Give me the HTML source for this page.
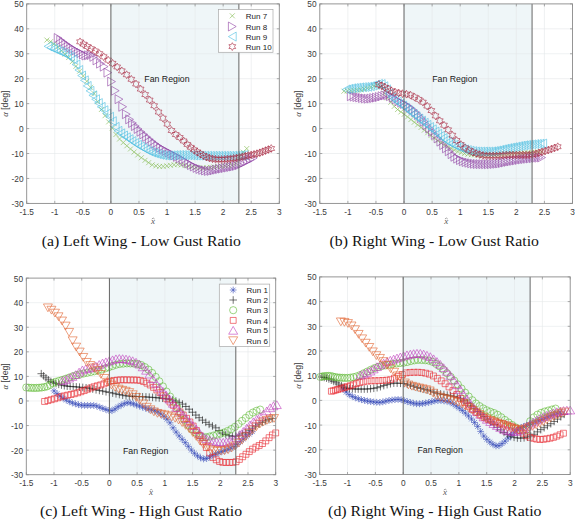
<!DOCTYPE html>
<html><head><meta charset="utf-8"><style>
html,body{margin:0;padding:0;background:#fff;}
svg{display:block;}
</style></head><body>
<svg width="575" height="520" viewBox="0 0 575 520">
<rect width="575" height="520" fill="#fff"/>
<defs><g id="m-x"><path d="M-2.5,-2.5L2.5,2.5M-2.5,2.5L2.5,-2.5"/></g>
<g id="m-gt"><path d="M-3.90,-4.5L3.90,0L-3.90,4.5Z"/></g>
<g id="m-lt"><path d="M3.90,-4.5L-3.90,0L3.90,4.5Z"/></g>
<g id="m-up"><path d="M-4.5,3.90L0,-3.90L4.5,3.90Z"/></g>
<g id="m-dn"><path d="M-4.5,-3.90L0,3.90L4.5,-3.90Z"/></g>
<g id="m-h"><path d="M0.00,-3.90L-1.12,-1.95L-3.38,-1.95L-2.25,-0.00L-3.38,1.95L-1.12,1.95L-0.00,3.90L1.12,1.95L3.38,1.95L2.25,0.00L3.38,-1.95L1.13,-1.95Z"/></g>
<g id="m-ast"><path d="M-3.4,0L3.4,0M0,-3.4L0,3.4M-2.40,-2.40L2.40,2.40M-2.40,2.40L2.40,-2.40"/></g>
<g id="m-plus"><path d="M-3.8,0L3.8,0M0,-3.8L0,3.8"/></g>
<g id="m-o"><circle r="3.6"/></g>
<g id="m-s"><path d="M-2.95,-2.95H2.95V2.95H-2.95Z"/></g></defs>
<rect x="26.7" y="3.9" width="252.60000000000002" height="199.5" fill="#fff"/>
<rect x="110.90" y="3.9" width="127.98" height="199.5" fill="#eff6f8"/>
<path d="M54.77,3.9V203.4M82.83,3.9V203.4M110.90,3.9V203.4M138.97,3.9V203.4M167.03,3.9V203.4M195.10,3.9V203.4M223.17,3.9V203.4M251.23,3.9V203.4M26.7,178.46H279.3M26.7,153.53H279.3M26.7,128.59H279.3M26.7,103.65H279.3M26.7,78.71H279.3M26.7,53.77H279.3M26.7,28.84H279.3" stroke="#e4e7e9" stroke-width="0.6" fill="none"/>
<text x="144.3" y="82.1" font-family='"Liberation Sans", sans-serif' font-size="8.3" fill="#1a1a1a" textLength="45.3" lengthAdjust="spacingAndGlyphs">Fan Region</text>
<g stroke="#7fb84a" fill="none" stroke-width="0.6">
<use href="#m-x" x="46.91" y="40.06"/>
<use href="#m-x" x="50.54" y="41.66"/>
<use href="#m-x" x="54.17" y="43.89"/>
<use href="#m-x" x="57.81" y="46.94"/>
<use href="#m-x" x="61.44" y="50.77"/>
<use href="#m-x" x="65.07" y="54.25"/>
<use href="#m-x" x="68.71" y="57.53"/>
<use href="#m-x" x="72.34" y="61.61"/>
<use href="#m-x" x="75.97" y="66.31"/>
<use href="#m-x" x="79.61" y="71.17"/>
<use href="#m-x" x="83.24" y="76.01"/>
<use href="#m-x" x="86.87" y="81.26"/>
<use href="#m-x" x="90.51" y="87.32"/>
<use href="#m-x" x="94.14" y="93.65"/>
<use href="#m-x" x="97.78" y="101.63"/>
<use href="#m-x" x="101.41" y="109.48"/>
<use href="#m-x" x="105.04" y="115.70"/>
<use href="#m-x" x="108.68" y="121.86"/>
<use href="#m-x" x="112.31" y="128.09"/>
<use href="#m-x" x="115.94" y="134.47"/>
<use href="#m-x" x="119.58" y="139.01"/>
<use href="#m-x" x="123.21" y="142.62"/>
<use href="#m-x" x="126.84" y="145.81"/>
<use href="#m-x" x="130.48" y="148.96"/>
<use href="#m-x" x="134.11" y="152.03"/>
<use href="#m-x" x="137.74" y="154.95"/>
<use href="#m-x" x="141.38" y="157.72"/>
<use href="#m-x" x="145.01" y="160.34"/>
<use href="#m-x" x="148.64" y="162.68"/>
<use href="#m-x" x="152.28" y="164.83"/>
<use href="#m-x" x="155.91" y="165.87"/>
<use href="#m-x" x="159.54" y="166.41"/>
<use href="#m-x" x="163.18" y="166.40"/>
<use href="#m-x" x="166.81" y="165.88"/>
<use href="#m-x" x="170.44" y="165.33"/>
<use href="#m-x" x="174.08" y="164.74"/>
<use href="#m-x" x="177.71" y="164.51"/>
<use href="#m-x" x="181.34" y="164.96"/>
<use href="#m-x" x="184.98" y="165.58"/>
<use href="#m-x" x="188.61" y="166.15"/>
<use href="#m-x" x="192.24" y="166.73"/>
<use href="#m-x" x="195.88" y="167.41"/>
<use href="#m-x" x="199.51" y="167.94"/>
<use href="#m-x" x="203.14" y="167.93"/>
<use href="#m-x" x="206.78" y="167.70"/>
<use href="#m-x" x="210.41" y="167.37"/>
<use href="#m-x" x="214.04" y="167.05"/>
<use href="#m-x" x="217.68" y="166.64"/>
<use href="#m-x" x="221.31" y="166.21"/>
<use href="#m-x" x="224.94" y="165.82"/>
<use href="#m-x" x="228.58" y="165.55"/>
<use href="#m-x" x="232.21" y="165.16"/>
<use href="#m-x" x="235.84" y="163.48"/>
<use href="#m-x" x="239.48" y="156.79"/>
<use href="#m-x" x="243.11" y="152.21"/>
<use href="#m-x" x="246.74" y="148.54"/>
</g>
<g stroke="#8e3fa2" fill="none" stroke-width="0.6">
<use href="#m-gt" x="58.13" y="38.06"/>
<use href="#m-gt" x="60.66" y="40.09"/>
<use href="#m-gt" x="63.19" y="42.03"/>
<use href="#m-gt" x="65.71" y="43.89"/>
<use href="#m-gt" x="68.24" y="45.66"/>
<use href="#m-gt" x="70.76" y="47.36"/>
<use href="#m-gt" x="73.29" y="48.98"/>
<use href="#m-gt" x="75.82" y="50.49"/>
<use href="#m-gt" x="78.34" y="51.87"/>
<use href="#m-gt" x="80.87" y="53.09"/>
<use href="#m-gt" x="83.39" y="54.48"/>
<use href="#m-gt" x="85.92" y="55.52"/>
<use href="#m-gt" x="88.45" y="55.27"/>
<use href="#m-gt" x="90.97" y="55.03"/>
<use href="#m-gt" x="93.79" y="56.81"/>
<use href="#m-gt" x="96.94" y="60.38"/>
<use href="#m-gt" x="100.46" y="63.62"/>
<use href="#m-gt" x="104.17" y="66.62"/>
<use href="#m-gt" x="107.87" y="72.64"/>
<use href="#m-gt" x="111.57" y="81.59"/>
<use href="#m-gt" x="115.28" y="90.71"/>
<use href="#m-gt" x="118.98" y="99.17"/>
<use href="#m-gt" x="122.69" y="106.76"/>
<use href="#m-gt" x="126.33" y="114.20"/>
<use href="#m-gt" x="129.59" y="119.34"/>
<use href="#m-gt" x="132.50" y="122.97"/>
<use href="#m-gt" x="135.31" y="126.03"/>
<use href="#m-gt" x="138.11" y="128.95"/>
<use href="#m-gt" x="140.92" y="131.72"/>
<use href="#m-gt" x="143.73" y="134.35"/>
<use href="#m-gt" x="146.53" y="136.85"/>
<use href="#m-gt" x="149.34" y="139.24"/>
<use href="#m-gt" x="152.15" y="141.56"/>
<use href="#m-gt" x="154.95" y="143.77"/>
<use href="#m-gt" x="157.76" y="145.83"/>
<use href="#m-gt" x="160.57" y="147.71"/>
<use href="#m-gt" x="163.37" y="149.38"/>
<use href="#m-gt" x="166.18" y="150.90"/>
<use href="#m-gt" x="168.99" y="152.35"/>
<use href="#m-gt" x="171.79" y="153.81"/>
<use href="#m-gt" x="174.60" y="155.33"/>
<use href="#m-gt" x="177.41" y="156.83"/>
<use href="#m-gt" x="180.21" y="158.34"/>
<use href="#m-gt" x="183.02" y="159.91"/>
<use href="#m-gt" x="185.83" y="161.63"/>
<use href="#m-gt" x="188.63" y="163.40"/>
<use href="#m-gt" x="191.44" y="165.04"/>
<use href="#m-gt" x="194.25" y="166.49"/>
<use href="#m-gt" x="197.05" y="167.86"/>
<use href="#m-gt" x="199.86" y="168.97"/>
<use href="#m-gt" x="202.67" y="169.80"/>
<use href="#m-gt" x="205.47" y="170.53"/>
<use href="#m-gt" x="208.28" y="170.95"/>
<use href="#m-gt" x="211.09" y="170.85"/>
<use href="#m-gt" x="213.89" y="170.33"/>
<use href="#m-gt" x="216.70" y="169.66"/>
<use href="#m-gt" x="219.51" y="169.08"/>
<use href="#m-gt" x="222.31" y="168.58"/>
<use href="#m-gt" x="225.12" y="168.07"/>
<use href="#m-gt" x="227.93" y="167.55"/>
<use href="#m-gt" x="230.73" y="167.02"/>
<use href="#m-gt" x="233.54" y="166.50"/>
<use href="#m-gt" x="236.35" y="165.87"/>
<use href="#m-gt" x="239.15" y="165.03"/>
<use href="#m-gt" x="241.96" y="163.80"/>
<use href="#m-gt" x="244.77" y="162.35"/>
<use href="#m-gt" x="247.57" y="160.90"/>
<use href="#m-gt" x="250.38" y="159.54"/>
<use href="#m-gt" x="253.19" y="158.16"/>
</g>
<g stroke="#49bde0" fill="none" stroke-width="0.6">
<use href="#m-lt" x="48.03" y="46.29"/>
<use href="#m-lt" x="50.83" y="47.54"/>
<use href="#m-lt" x="53.63" y="48.78"/>
<use href="#m-lt" x="56.43" y="50.01"/>
<use href="#m-lt" x="59.23" y="51.19"/>
<use href="#m-lt" x="62.02" y="52.42"/>
<use href="#m-lt" x="64.82" y="53.79"/>
<use href="#m-lt" x="67.62" y="55.17"/>
<use href="#m-lt" x="70.42" y="56.85"/>
<use href="#m-lt" x="73.22" y="59.50"/>
<use href="#m-lt" x="76.02" y="64.52"/>
<use href="#m-lt" x="78.82" y="70.00"/>
<use href="#m-lt" x="81.61" y="75.56"/>
<use href="#m-lt" x="84.41" y="80.36"/>
<use href="#m-lt" x="87.21" y="85.94"/>
<use href="#m-lt" x="90.01" y="90.86"/>
<use href="#m-lt" x="92.81" y="95.32"/>
<use href="#m-lt" x="95.61" y="99.25"/>
<use href="#m-lt" x="98.41" y="103.07"/>
<use href="#m-lt" x="101.20" y="106.87"/>
<use href="#m-lt" x="104.00" y="110.26"/>
<use href="#m-lt" x="106.80" y="113.55"/>
<use href="#m-lt" x="109.60" y="116.84"/>
<use href="#m-lt" x="112.40" y="121.21"/>
<use href="#m-lt" x="115.20" y="126.90"/>
<use href="#m-lt" x="118.00" y="130.83"/>
<use href="#m-lt" x="120.80" y="133.40"/>
<use href="#m-lt" x="123.59" y="135.47"/>
<use href="#m-lt" x="126.39" y="137.30"/>
<use href="#m-lt" x="129.19" y="139.15"/>
<use href="#m-lt" x="131.99" y="141.10"/>
<use href="#m-lt" x="134.79" y="142.99"/>
<use href="#m-lt" x="137.59" y="144.81"/>
<use href="#m-lt" x="140.39" y="146.50"/>
<use href="#m-lt" x="143.18" y="148.08"/>
<use href="#m-lt" x="145.98" y="149.65"/>
<use href="#m-lt" x="148.78" y="151.12"/>
<use href="#m-lt" x="151.58" y="152.36"/>
<use href="#m-lt" x="154.38" y="153.26"/>
<use href="#m-lt" x="157.18" y="154.06"/>
<use href="#m-lt" x="159.98" y="154.77"/>
<use href="#m-lt" x="162.78" y="155.29"/>
<use href="#m-lt" x="165.57" y="155.52"/>
<use href="#m-lt" x="168.37" y="155.47"/>
<use href="#m-lt" x="171.17" y="155.33"/>
<use href="#m-lt" x="173.97" y="155.16"/>
<use href="#m-lt" x="176.77" y="155.04"/>
<use href="#m-lt" x="179.57" y="155.03"/>
<use href="#m-lt" x="182.37" y="155.08"/>
<use href="#m-lt" x="185.16" y="155.17"/>
<use href="#m-lt" x="187.96" y="155.28"/>
<use href="#m-lt" x="190.76" y="155.39"/>
<use href="#m-lt" x="193.56" y="155.48"/>
<use href="#m-lt" x="196.36" y="155.55"/>
<use href="#m-lt" x="199.16" y="155.60"/>
<use href="#m-lt" x="201.96" y="155.66"/>
<use href="#m-lt" x="204.75" y="155.71"/>
<use href="#m-lt" x="207.55" y="155.74"/>
<use href="#m-lt" x="210.35" y="155.77"/>
<use href="#m-lt" x="213.15" y="155.77"/>
<use href="#m-lt" x="215.95" y="155.77"/>
<use href="#m-lt" x="218.75" y="155.77"/>
<use href="#m-lt" x="221.55" y="155.77"/>
<use href="#m-lt" x="224.35" y="155.77"/>
<use href="#m-lt" x="227.14" y="155.77"/>
<use href="#m-lt" x="229.94" y="155.76"/>
<use href="#m-lt" x="232.74" y="155.70"/>
<use href="#m-lt" x="235.54" y="155.58"/>
<use href="#m-lt" x="238.34" y="155.41"/>
<use href="#m-lt" x="241.14" y="155.22"/>
<use href="#m-lt" x="243.94" y="155.02"/>
</g>
<g stroke="#a8243c" fill="none" stroke-width="0.6">
<use href="#m-h" x="80.03" y="41.81"/>
<use href="#m-h" x="83.53" y="44.20"/>
<use href="#m-h" x="87.22" y="46.49"/>
<use href="#m-h" x="91.09" y="48.69"/>
<use href="#m-h" x="95.15" y="50.93"/>
<use href="#m-h" x="99.38" y="53.59"/>
<use href="#m-h" x="103.70" y="56.75"/>
<use href="#m-h" x="108.10" y="60.09"/>
<use href="#m-h" x="112.59" y="63.33"/>
<use href="#m-h" x="117.17" y="66.94"/>
<use href="#m-h" x="121.84" y="70.85"/>
<use href="#m-h" x="126.61" y="74.71"/>
<use href="#m-h" x="131.33" y="79.31"/>
<use href="#m-h" x="136.00" y="83.99"/>
<use href="#m-h" x="140.62" y="89.10"/>
<use href="#m-h" x="145.18" y="94.60"/>
<use href="#m-h" x="149.70" y="100.06"/>
<use href="#m-h" x="154.16" y="105.70"/>
<use href="#m-h" x="158.58" y="112.03"/>
<use href="#m-h" x="162.94" y="118.16"/>
<use href="#m-h" x="167.26" y="124.09"/>
<use href="#m-h" x="171.53" y="130.52"/>
<use href="#m-h" x="175.75" y="134.57"/>
<use href="#m-h" x="179.81" y="137.54"/>
<use href="#m-h" x="183.66" y="140.93"/>
<use href="#m-h" x="187.32" y="144.42"/>
<use href="#m-h" x="190.80" y="147.33"/>
<use href="#m-h" x="194.10" y="149.81"/>
<use href="#m-h" x="197.24" y="151.93"/>
<use href="#m-h" x="200.32" y="153.78"/>
<use href="#m-h" x="203.39" y="155.58"/>
<use href="#m-h" x="206.45" y="157.11"/>
<use href="#m-h" x="209.50" y="158.10"/>
<use href="#m-h" x="212.53" y="158.78"/>
<use href="#m-h" x="215.56" y="159.30"/>
<use href="#m-h" x="218.58" y="159.51"/>
<use href="#m-h" x="221.59" y="159.45"/>
<use href="#m-h" x="224.59" y="159.28"/>
<use href="#m-h" x="227.58" y="159.06"/>
<use href="#m-h" x="230.56" y="158.79"/>
<use href="#m-h" x="233.53" y="158.40"/>
<use href="#m-h" x="236.49" y="157.93"/>
<use href="#m-h" x="239.44" y="157.42"/>
<use href="#m-h" x="242.38" y="156.80"/>
<use href="#m-h" x="245.31" y="156.11"/>
<use href="#m-h" x="248.23" y="155.44"/>
<use href="#m-h" x="251.14" y="154.87"/>
<use href="#m-h" x="254.04" y="154.31"/>
<use href="#m-h" x="256.93" y="153.65"/>
<use href="#m-h" x="259.81" y="152.78"/>
<use href="#m-h" x="262.68" y="151.69"/>
<use href="#m-h" x="265.54" y="150.56"/>
<use href="#m-h" x="268.40" y="149.52"/>
<use href="#m-h" x="271.24" y="148.51"/>
</g>
<path d="M110.90,3.9V203.4M238.88,3.9V203.4" stroke="#666" stroke-width="1.0" fill="none"/>
<path d="M26.70,203.4v-2.5M26.70,3.9v2.5M54.77,203.4v-2.5M54.77,3.9v2.5M82.83,203.4v-2.5M82.83,3.9v2.5M110.90,203.4v-2.5M110.90,3.9v2.5M138.97,203.4v-2.5M138.97,3.9v2.5M167.03,203.4v-2.5M167.03,3.9v2.5M195.10,203.4v-2.5M195.10,3.9v2.5M223.17,203.4v-2.5M223.17,3.9v2.5M251.23,203.4v-2.5M251.23,3.9v2.5M279.30,203.4v-2.5M279.30,3.9v2.5M26.7,203.40h2.5M279.3,203.40h-2.5M26.7,178.46h2.5M279.3,178.46h-2.5M26.7,153.53h2.5M279.3,153.53h-2.5M26.7,128.59h2.5M279.3,128.59h-2.5M26.7,103.65h2.5M279.3,103.65h-2.5M26.7,78.71h2.5M279.3,78.71h-2.5M26.7,53.77h2.5M279.3,53.77h-2.5M26.7,28.84h2.5M279.3,28.84h-2.5M26.7,3.90h2.5M279.3,3.90h-2.5" stroke="#777" stroke-width="0.6" fill="none"/>
<rect x="26.7" y="3.9" width="252.60000000000002" height="199.5" fill="none" stroke="#8a8a8a" stroke-width="0.9"/>
<text x="26.70" y="214.70" text-anchor="middle" font-family='"Liberation Sans", sans-serif' font-size="8.3" fill="#3a3a3a">-1.5</text>
<text x="54.77" y="214.70" text-anchor="middle" font-family='"Liberation Sans", sans-serif' font-size="8.3" fill="#3a3a3a">-1</text>
<text x="82.83" y="214.70" text-anchor="middle" font-family='"Liberation Sans", sans-serif' font-size="8.3" fill="#3a3a3a">-0.5</text>
<text x="110.90" y="214.70" text-anchor="middle" font-family='"Liberation Sans", sans-serif' font-size="8.3" fill="#3a3a3a">0</text>
<text x="138.97" y="214.70" text-anchor="middle" font-family='"Liberation Sans", sans-serif' font-size="8.3" fill="#3a3a3a">0.5</text>
<text x="167.03" y="214.70" text-anchor="middle" font-family='"Liberation Sans", sans-serif' font-size="8.3" fill="#3a3a3a">1</text>
<text x="195.10" y="214.70" text-anchor="middle" font-family='"Liberation Sans", sans-serif' font-size="8.3" fill="#3a3a3a">1.5</text>
<text x="223.17" y="214.70" text-anchor="middle" font-family='"Liberation Sans", sans-serif' font-size="8.3" fill="#3a3a3a">2</text>
<text x="251.23" y="214.70" text-anchor="middle" font-family='"Liberation Sans", sans-serif' font-size="8.3" fill="#3a3a3a">2.5</text>
<text x="279.30" y="214.70" text-anchor="middle" font-family='"Liberation Sans", sans-serif' font-size="8.3" fill="#3a3a3a">3</text>
<text x="23.50" y="206.90" text-anchor="end" font-family='"Liberation Sans", sans-serif' font-size="8.3" fill="#3a3a3a">-30</text>
<text x="23.50" y="181.96" text-anchor="end" font-family='"Liberation Sans", sans-serif' font-size="8.3" fill="#3a3a3a">-20</text>
<text x="23.50" y="157.03" text-anchor="end" font-family='"Liberation Sans", sans-serif' font-size="8.3" fill="#3a3a3a">-10</text>
<text x="23.50" y="132.09" text-anchor="end" font-family='"Liberation Sans", sans-serif' font-size="8.3" fill="#3a3a3a">0</text>
<text x="23.50" y="107.15" text-anchor="end" font-family='"Liberation Sans", sans-serif' font-size="8.3" fill="#3a3a3a">10</text>
<text x="23.50" y="82.21" text-anchor="end" font-family='"Liberation Sans", sans-serif' font-size="8.3" fill="#3a3a3a">20</text>
<text x="23.50" y="57.27" text-anchor="end" font-family='"Liberation Sans", sans-serif' font-size="8.3" fill="#3a3a3a">30</text>
<text x="23.50" y="32.34" text-anchor="end" font-family='"Liberation Sans", sans-serif' font-size="8.3" fill="#3a3a3a">40</text>
<text x="23.50" y="7.40" text-anchor="end" font-family='"Liberation Sans", sans-serif' font-size="8.3" fill="#3a3a3a">50</text>
<text x="153.00" y="224.00" text-anchor="middle" font-family='"Liberation Serif", serif' font-style="italic" font-size="9" fill="#555">x</text>
<path d="M151.80,219.00L153.20,218.00L154.60,219.00" stroke="#666" stroke-width="0.6" fill="none"/>
<text transform="translate(8.10,103.65) rotate(-90)" text-anchor="middle" font-family='"Liberation Sans", sans-serif' font-size="8.7" fill="#3a3a3a"><tspan font-family='"Liberation Serif", serif' font-style="italic">α</tspan> [deg]</text>
<rect x="319.8" y="3.9" width="252.7" height="199.5" fill="#fff"/>
<rect x="404.03" y="3.9" width="128.03" height="199.5" fill="#eff6f8"/>
<path d="M347.88,3.9V203.4M375.96,3.9V203.4M404.03,3.9V203.4M432.11,3.9V203.4M460.19,3.9V203.4M488.27,3.9V203.4M516.34,3.9V203.4M544.42,3.9V203.4M319.8,178.46H572.5M319.8,153.53H572.5M319.8,128.59H572.5M319.8,103.65H572.5M319.8,78.71H572.5M319.8,53.77H572.5M319.8,28.84H572.5" stroke="#e4e7e9" stroke-width="0.6" fill="none"/>
<text x="432.2" y="82.0" font-family='"Liberation Sans", sans-serif' font-size="8.3" fill="#1a1a1a" textLength="45.3" lengthAdjust="spacingAndGlyphs">Fan Region</text>
<g stroke="#7fb84a" fill="none" stroke-width="0.6">
<use href="#m-x" x="343.95" y="91.18"/>
<use href="#m-x" x="347.30" y="90.94"/>
<use href="#m-x" x="350.65" y="90.69"/>
<use href="#m-x" x="354.00" y="90.43"/>
<use href="#m-x" x="357.35" y="90.13"/>
<use href="#m-x" x="360.70" y="89.69"/>
<use href="#m-x" x="364.05" y="88.96"/>
<use href="#m-x" x="367.40" y="88.11"/>
<use href="#m-x" x="370.75" y="87.11"/>
<use href="#m-x" x="374.10" y="85.88"/>
<use href="#m-x" x="377.45" y="85.04"/>
<use href="#m-x" x="380.80" y="86.88"/>
<use href="#m-x" x="384.15" y="93.33"/>
<use href="#m-x" x="387.50" y="97.95"/>
<use href="#m-x" x="390.85" y="102.25"/>
<use href="#m-x" x="394.20" y="106.43"/>
<use href="#m-x" x="397.55" y="109.54"/>
<use href="#m-x" x="400.90" y="111.92"/>
<use href="#m-x" x="404.25" y="114.29"/>
<use href="#m-x" x="407.60" y="116.89"/>
<use href="#m-x" x="410.95" y="119.54"/>
<use href="#m-x" x="414.30" y="122.20"/>
<use href="#m-x" x="417.65" y="124.85"/>
<use href="#m-x" x="421.00" y="127.49"/>
<use href="#m-x" x="424.35" y="130.12"/>
<use href="#m-x" x="427.70" y="132.76"/>
<use href="#m-x" x="431.05" y="135.44"/>
<use href="#m-x" x="434.40" y="138.17"/>
<use href="#m-x" x="437.76" y="140.69"/>
<use href="#m-x" x="441.11" y="142.88"/>
<use href="#m-x" x="444.46" y="144.87"/>
<use href="#m-x" x="447.81" y="146.70"/>
<use href="#m-x" x="451.16" y="148.41"/>
<use href="#m-x" x="454.51" y="150.05"/>
<use href="#m-x" x="457.86" y="151.48"/>
<use href="#m-x" x="461.21" y="152.58"/>
<use href="#m-x" x="464.56" y="153.57"/>
<use href="#m-x" x="467.91" y="154.37"/>
<use href="#m-x" x="471.26" y="154.77"/>
<use href="#m-x" x="474.61" y="154.86"/>
<use href="#m-x" x="477.96" y="154.93"/>
<use href="#m-x" x="481.31" y="154.98"/>
<use href="#m-x" x="484.66" y="155.01"/>
<use href="#m-x" x="488.01" y="155.02"/>
<use href="#m-x" x="491.36" y="154.96"/>
<use href="#m-x" x="494.71" y="154.79"/>
<use href="#m-x" x="498.06" y="154.54"/>
<use href="#m-x" x="501.41" y="154.28"/>
<use href="#m-x" x="504.76" y="154.05"/>
<use href="#m-x" x="508.11" y="153.85"/>
<use href="#m-x" x="511.46" y="153.65"/>
<use href="#m-x" x="514.81" y="153.45"/>
<use href="#m-x" x="518.16" y="153.26"/>
<use href="#m-x" x="521.51" y="153.05"/>
<use href="#m-x" x="524.86" y="152.85"/>
<use href="#m-x" x="528.21" y="152.64"/>
<use href="#m-x" x="531.56" y="152.43"/>
<use href="#m-x" x="534.91" y="152.21"/>
<use href="#m-x" x="538.26" y="152.00"/>
<use href="#m-x" x="541.61" y="151.78"/>
</g>
<g stroke="#8e3fa2" fill="none" stroke-width="0.6">
<use href="#m-gt" x="351.25" y="96.17"/>
<use href="#m-gt" x="354.05" y="96.63"/>
<use href="#m-gt" x="356.85" y="97.07"/>
<use href="#m-gt" x="359.65" y="97.50"/>
<use href="#m-gt" x="362.45" y="98.00"/>
<use href="#m-gt" x="365.24" y="98.46"/>
<use href="#m-gt" x="368.04" y="98.66"/>
<use href="#m-gt" x="370.84" y="98.51"/>
<use href="#m-gt" x="373.64" y="98.12"/>
<use href="#m-gt" x="376.44" y="97.62"/>
<use href="#m-gt" x="379.24" y="97.06"/>
<use href="#m-gt" x="382.04" y="96.21"/>
<use href="#m-gt" x="384.84" y="95.44"/>
<use href="#m-gt" x="387.64" y="95.20"/>
<use href="#m-gt" x="390.44" y="96.17"/>
<use href="#m-gt" x="393.24" y="97.64"/>
<use href="#m-gt" x="396.04" y="99.39"/>
<use href="#m-gt" x="398.84" y="101.25"/>
<use href="#m-gt" x="401.64" y="102.68"/>
<use href="#m-gt" x="404.44" y="103.93"/>
<use href="#m-gt" x="407.24" y="105.48"/>
<use href="#m-gt" x="410.04" y="107.44"/>
<use href="#m-gt" x="412.84" y="109.69"/>
<use href="#m-gt" x="415.64" y="112.18"/>
<use href="#m-gt" x="418.44" y="114.94"/>
<use href="#m-gt" x="421.24" y="118.13"/>
<use href="#m-gt" x="424.03" y="121.57"/>
<use href="#m-gt" x="426.83" y="125.05"/>
<use href="#m-gt" x="429.63" y="128.39"/>
<use href="#m-gt" x="432.43" y="131.68"/>
<use href="#m-gt" x="435.23" y="134.97"/>
<use href="#m-gt" x="438.03" y="138.26"/>
<use href="#m-gt" x="440.83" y="141.63"/>
<use href="#m-gt" x="443.63" y="145.04"/>
<use href="#m-gt" x="446.43" y="148.28"/>
<use href="#m-gt" x="449.23" y="151.24"/>
<use href="#m-gt" x="452.03" y="154.15"/>
<use href="#m-gt" x="454.83" y="156.74"/>
<use href="#m-gt" x="457.63" y="158.65"/>
<use href="#m-gt" x="460.43" y="160.03"/>
<use href="#m-gt" x="463.23" y="161.15"/>
<use href="#m-gt" x="466.03" y="162.02"/>
<use href="#m-gt" x="468.83" y="162.70"/>
<use href="#m-gt" x="471.63" y="163.31"/>
<use href="#m-gt" x="474.43" y="163.77"/>
<use href="#m-gt" x="477.23" y="164.01"/>
<use href="#m-gt" x="480.03" y="164.11"/>
<use href="#m-gt" x="482.82" y="164.18"/>
<use href="#m-gt" x="485.62" y="164.23"/>
<use href="#m-gt" x="488.42" y="164.25"/>
<use href="#m-gt" x="491.22" y="164.18"/>
<use href="#m-gt" x="494.02" y="164.01"/>
<use href="#m-gt" x="496.82" y="163.76"/>
<use href="#m-gt" x="499.62" y="163.49"/>
<use href="#m-gt" x="502.42" y="163.04"/>
<use href="#m-gt" x="505.22" y="162.43"/>
<use href="#m-gt" x="508.02" y="161.84"/>
<use href="#m-gt" x="510.82" y="161.34"/>
<use href="#m-gt" x="513.62" y="160.85"/>
<use href="#m-gt" x="516.42" y="160.37"/>
<use href="#m-gt" x="519.22" y="159.91"/>
<use href="#m-gt" x="522.02" y="159.49"/>
<use href="#m-gt" x="524.82" y="159.10"/>
<use href="#m-gt" x="527.62" y="158.76"/>
<use href="#m-gt" x="530.42" y="158.45"/>
<use href="#m-gt" x="533.22" y="158.18"/>
<use href="#m-gt" x="536.02" y="157.92"/>
<use href="#m-gt" x="538.81" y="157.70"/>
<use href="#m-gt" x="541.61" y="157.52"/>
</g>
<g stroke="#49bde0" fill="none" stroke-width="0.6">
<use href="#m-lt" x="346.19" y="89.44"/>
<use href="#m-lt" x="348.89" y="88.78"/>
<use href="#m-lt" x="351.58" y="88.30"/>
<use href="#m-lt" x="354.27" y="87.95"/>
<use href="#m-lt" x="356.96" y="87.65"/>
<use href="#m-lt" x="359.66" y="87.39"/>
<use href="#m-lt" x="362.35" y="87.18"/>
<use href="#m-lt" x="365.04" y="86.99"/>
<use href="#m-lt" x="367.73" y="86.74"/>
<use href="#m-lt" x="370.42" y="86.25"/>
<use href="#m-lt" x="373.12" y="85.50"/>
<use href="#m-lt" x="375.81" y="84.73"/>
<use href="#m-lt" x="378.50" y="83.90"/>
<use href="#m-lt" x="381.19" y="84.08"/>
<use href="#m-lt" x="383.89" y="86.25"/>
<use href="#m-lt" x="386.58" y="89.38"/>
<use href="#m-lt" x="389.27" y="93.66"/>
<use href="#m-lt" x="391.96" y="97.21"/>
<use href="#m-lt" x="394.66" y="99.68"/>
<use href="#m-lt" x="397.35" y="101.77"/>
<use href="#m-lt" x="400.04" y="103.70"/>
<use href="#m-lt" x="402.73" y="105.64"/>
<use href="#m-lt" x="405.43" y="107.76"/>
<use href="#m-lt" x="408.12" y="109.93"/>
<use href="#m-lt" x="410.81" y="112.12"/>
<use href="#m-lt" x="413.50" y="114.30"/>
<use href="#m-lt" x="416.20" y="116.46"/>
<use href="#m-lt" x="418.89" y="118.59"/>
<use href="#m-lt" x="421.58" y="120.70"/>
<use href="#m-lt" x="424.27" y="122.80"/>
<use href="#m-lt" x="426.96" y="124.92"/>
<use href="#m-lt" x="429.66" y="127.09"/>
<use href="#m-lt" x="432.35" y="129.32"/>
<use href="#m-lt" x="435.04" y="131.59"/>
<use href="#m-lt" x="437.73" y="133.83"/>
<use href="#m-lt" x="440.43" y="135.98"/>
<use href="#m-lt" x="443.12" y="138.11"/>
<use href="#m-lt" x="445.81" y="140.18"/>
<use href="#m-lt" x="448.50" y="142.03"/>
<use href="#m-lt" x="451.20" y="143.58"/>
<use href="#m-lt" x="453.89" y="144.96"/>
<use href="#m-lt" x="456.58" y="146.20"/>
<use href="#m-lt" x="459.27" y="147.35"/>
<use href="#m-lt" x="461.97" y="148.47"/>
<use href="#m-lt" x="464.66" y="149.43"/>
<use href="#m-lt" x="467.35" y="150.12"/>
<use href="#m-lt" x="470.04" y="150.69"/>
<use href="#m-lt" x="472.74" y="151.17"/>
<use href="#m-lt" x="475.43" y="151.47"/>
<use href="#m-lt" x="478.12" y="151.53"/>
<use href="#m-lt" x="480.81" y="151.53"/>
<use href="#m-lt" x="483.50" y="151.53"/>
<use href="#m-lt" x="486.20" y="151.53"/>
<use href="#m-lt" x="488.89" y="151.52"/>
<use href="#m-lt" x="491.58" y="151.36"/>
<use href="#m-lt" x="494.27" y="151.00"/>
<use href="#m-lt" x="496.97" y="150.51"/>
<use href="#m-lt" x="499.66" y="149.93"/>
<use href="#m-lt" x="502.35" y="149.32"/>
<use href="#m-lt" x="505.04" y="148.71"/>
<use href="#m-lt" x="507.74" y="148.17"/>
<use href="#m-lt" x="510.43" y="147.70"/>
<use href="#m-lt" x="513.12" y="147.20"/>
<use href="#m-lt" x="515.81" y="146.69"/>
<use href="#m-lt" x="518.51" y="146.18"/>
<use href="#m-lt" x="521.20" y="145.71"/>
<use href="#m-lt" x="523.89" y="145.28"/>
<use href="#m-lt" x="526.58" y="144.91"/>
<use href="#m-lt" x="529.28" y="144.61"/>
<use href="#m-lt" x="531.97" y="144.34"/>
<use href="#m-lt" x="534.66" y="144.09"/>
<use href="#m-lt" x="537.35" y="143.87"/>
<use href="#m-lt" x="540.05" y="143.69"/>
<use href="#m-lt" x="542.74" y="143.55"/>
</g>
<g stroke="#a8243c" fill="none" stroke-width="0.6">
<use href="#m-h" x="378.76" y="84.45"/>
<use href="#m-h" x="381.71" y="85.75"/>
<use href="#m-h" x="384.81" y="87.23"/>
<use href="#m-h" x="388.06" y="88.92"/>
<use href="#m-h" x="391.47" y="90.85"/>
<use href="#m-h" x="395.05" y="92.08"/>
<use href="#m-h" x="398.76" y="93.01"/>
<use href="#m-h" x="402.56" y="93.66"/>
<use href="#m-h" x="406.45" y="94.17"/>
<use href="#m-h" x="410.44" y="95.10"/>
<use href="#m-h" x="414.54" y="97.16"/>
<use href="#m-h" x="418.73" y="99.38"/>
<use href="#m-h" x="422.94" y="102.19"/>
<use href="#m-h" x="427.15" y="106.04"/>
<use href="#m-h" x="431.36" y="110.57"/>
<use href="#m-h" x="435.58" y="115.85"/>
<use href="#m-h" x="439.79" y="120.77"/>
<use href="#m-h" x="444.00" y="125.17"/>
<use href="#m-h" x="448.21" y="129.78"/>
<use href="#m-h" x="452.42" y="135.28"/>
<use href="#m-h" x="456.63" y="140.54"/>
<use href="#m-h" x="460.85" y="144.53"/>
<use href="#m-h" x="465.02" y="147.81"/>
<use href="#m-h" x="468.99" y="150.23"/>
<use href="#m-h" x="472.77" y="152.16"/>
<use href="#m-h" x="476.35" y="153.57"/>
<use href="#m-h" x="479.75" y="154.57"/>
<use href="#m-h" x="483.11" y="155.40"/>
<use href="#m-h" x="486.47" y="155.77"/>
<use href="#m-h" x="489.81" y="155.77"/>
<use href="#m-h" x="493.14" y="155.77"/>
<use href="#m-h" x="496.46" y="155.77"/>
<use href="#m-h" x="499.77" y="155.61"/>
<use href="#m-h" x="503.08" y="155.33"/>
<use href="#m-h" x="506.37" y="155.08"/>
<use href="#m-h" x="509.65" y="155.02"/>
<use href="#m-h" x="512.92" y="155.02"/>
<use href="#m-h" x="516.19" y="155.02"/>
<use href="#m-h" x="519.44" y="155.02"/>
<use href="#m-h" x="522.69" y="155.02"/>
<use href="#m-h" x="525.92" y="155.02"/>
<use href="#m-h" x="529.15" y="154.96"/>
<use href="#m-h" x="532.36" y="154.51"/>
<use href="#m-h" x="535.57" y="153.76"/>
<use href="#m-h" x="538.77" y="152.84"/>
<use href="#m-h" x="541.96" y="151.90"/>
<use href="#m-h" x="545.13" y="151.02"/>
<use href="#m-h" x="548.30" y="150.06"/>
<use href="#m-h" x="551.46" y="149.01"/>
<use href="#m-h" x="554.61" y="147.91"/>
<use href="#m-h" x="557.75" y="146.73"/>
</g>
<path d="M404.03,3.9V203.4M532.07,3.9V203.4" stroke="#666" stroke-width="1.0" fill="none"/>
<path d="M319.80,203.4v-2.5M319.80,3.9v2.5M347.88,203.4v-2.5M347.88,3.9v2.5M375.96,203.4v-2.5M375.96,3.9v2.5M404.03,203.4v-2.5M404.03,3.9v2.5M432.11,203.4v-2.5M432.11,3.9v2.5M460.19,203.4v-2.5M460.19,3.9v2.5M488.27,203.4v-2.5M488.27,3.9v2.5M516.34,203.4v-2.5M516.34,3.9v2.5M544.42,203.4v-2.5M544.42,3.9v2.5M572.50,203.4v-2.5M572.50,3.9v2.5M319.8,203.40h2.5M572.5,203.40h-2.5M319.8,178.46h2.5M572.5,178.46h-2.5M319.8,153.53h2.5M572.5,153.53h-2.5M319.8,128.59h2.5M572.5,128.59h-2.5M319.8,103.65h2.5M572.5,103.65h-2.5M319.8,78.71h2.5M572.5,78.71h-2.5M319.8,53.77h2.5M572.5,53.77h-2.5M319.8,28.84h2.5M572.5,28.84h-2.5M319.8,3.90h2.5M572.5,3.90h-2.5" stroke="#777" stroke-width="0.6" fill="none"/>
<rect x="319.8" y="3.9" width="252.7" height="199.5" fill="none" stroke="#8a8a8a" stroke-width="0.9"/>
<text x="319.80" y="214.70" text-anchor="middle" font-family='"Liberation Sans", sans-serif' font-size="8.3" fill="#3a3a3a">-1.5</text>
<text x="347.88" y="214.70" text-anchor="middle" font-family='"Liberation Sans", sans-serif' font-size="8.3" fill="#3a3a3a">-1</text>
<text x="375.96" y="214.70" text-anchor="middle" font-family='"Liberation Sans", sans-serif' font-size="8.3" fill="#3a3a3a">-0.5</text>
<text x="404.03" y="214.70" text-anchor="middle" font-family='"Liberation Sans", sans-serif' font-size="8.3" fill="#3a3a3a">0</text>
<text x="432.11" y="214.70" text-anchor="middle" font-family='"Liberation Sans", sans-serif' font-size="8.3" fill="#3a3a3a">0.5</text>
<text x="460.19" y="214.70" text-anchor="middle" font-family='"Liberation Sans", sans-serif' font-size="8.3" fill="#3a3a3a">1</text>
<text x="488.27" y="214.70" text-anchor="middle" font-family='"Liberation Sans", sans-serif' font-size="8.3" fill="#3a3a3a">1.5</text>
<text x="516.34" y="214.70" text-anchor="middle" font-family='"Liberation Sans", sans-serif' font-size="8.3" fill="#3a3a3a">2</text>
<text x="544.42" y="214.70" text-anchor="middle" font-family='"Liberation Sans", sans-serif' font-size="8.3" fill="#3a3a3a">2.5</text>
<text x="572.50" y="214.70" text-anchor="middle" font-family='"Liberation Sans", sans-serif' font-size="8.3" fill="#3a3a3a">3</text>
<text x="316.60" y="206.90" text-anchor="end" font-family='"Liberation Sans", sans-serif' font-size="8.3" fill="#3a3a3a">-30</text>
<text x="316.60" y="181.96" text-anchor="end" font-family='"Liberation Sans", sans-serif' font-size="8.3" fill="#3a3a3a">-20</text>
<text x="316.60" y="157.03" text-anchor="end" font-family='"Liberation Sans", sans-serif' font-size="8.3" fill="#3a3a3a">-10</text>
<text x="316.60" y="132.09" text-anchor="end" font-family='"Liberation Sans", sans-serif' font-size="8.3" fill="#3a3a3a">0</text>
<text x="316.60" y="107.15" text-anchor="end" font-family='"Liberation Sans", sans-serif' font-size="8.3" fill="#3a3a3a">10</text>
<text x="316.60" y="82.21" text-anchor="end" font-family='"Liberation Sans", sans-serif' font-size="8.3" fill="#3a3a3a">20</text>
<text x="316.60" y="57.27" text-anchor="end" font-family='"Liberation Sans", sans-serif' font-size="8.3" fill="#3a3a3a">30</text>
<text x="316.60" y="32.34" text-anchor="end" font-family='"Liberation Sans", sans-serif' font-size="8.3" fill="#3a3a3a">40</text>
<text x="316.60" y="7.40" text-anchor="end" font-family='"Liberation Sans", sans-serif' font-size="8.3" fill="#3a3a3a">50</text>
<text x="446.15" y="224.00" text-anchor="middle" font-family='"Liberation Serif", serif' font-style="italic" font-size="9" fill="#555">x</text>
<path d="M444.95,219.00L446.35,218.00L447.75,219.00" stroke="#666" stroke-width="0.6" fill="none"/>
<text transform="translate(301.20,103.65) rotate(-90)" text-anchor="middle" font-family='"Liberation Sans", sans-serif' font-size="8.7" fill="#3a3a3a"><tspan font-family='"Liberation Serif", serif' font-style="italic">α</tspan> [deg]</text>
<rect x="26.3" y="278.1" width="249.39999999999998" height="196.59999999999997" fill="#fff"/>
<rect x="109.43" y="278.1" width="126.36" height="196.59999999999997" fill="#eff6f8"/>
<path d="M54.01,278.1V474.7M81.72,278.1V474.7M109.43,278.1V474.7M137.14,278.1V474.7M164.86,278.1V474.7M192.57,278.1V474.7M220.28,278.1V474.7M247.99,278.1V474.7M26.3,450.12H275.7M26.3,425.55H275.7M26.3,400.98H275.7M26.3,376.40H275.7M26.3,351.83H275.7M26.3,327.25H275.7M26.3,302.68H275.7" stroke="#e4e7e9" stroke-width="0.6" fill="none"/>
<text x="123.0" y="453.7" font-family='"Liberation Sans", sans-serif' font-size="8.3" fill="#1a1a1a" textLength="45.3" lengthAdjust="spacingAndGlyphs">Fan Region</text>
<g stroke="#3549b8" fill="none" stroke-width="0.6">
<use href="#m-ast" x="54.01" y="390.90"/>
<use href="#m-ast" x="57.06" y="393.67"/>
<use href="#m-ast" x="60.12" y="396.15"/>
<use href="#m-ast" x="63.17" y="398.27"/>
<use href="#m-ast" x="66.22" y="400.04"/>
<use href="#m-ast" x="69.27" y="401.61"/>
<use href="#m-ast" x="72.33" y="402.90"/>
<use href="#m-ast" x="75.38" y="403.85"/>
<use href="#m-ast" x="78.43" y="404.69"/>
<use href="#m-ast" x="81.48" y="405.28"/>
<use href="#m-ast" x="84.54" y="405.40"/>
<use href="#m-ast" x="87.59" y="405.40"/>
<use href="#m-ast" x="90.64" y="405.40"/>
<use href="#m-ast" x="93.69" y="405.41"/>
<use href="#m-ast" x="96.75" y="406.03"/>
<use href="#m-ast" x="99.80" y="407.22"/>
<use href="#m-ast" x="102.85" y="408.37"/>
<use href="#m-ast" x="105.90" y="409.50"/>
<use href="#m-ast" x="108.96" y="410.52"/>
<use href="#m-ast" x="112.01" y="410.68"/>
<use href="#m-ast" x="115.06" y="408.98"/>
<use href="#m-ast" x="118.11" y="406.78"/>
<use href="#m-ast" x="121.17" y="405.21"/>
<use href="#m-ast" x="124.22" y="403.69"/>
<use href="#m-ast" x="127.27" y="402.77"/>
<use href="#m-ast" x="130.32" y="402.91"/>
<use href="#m-ast" x="133.38" y="403.82"/>
<use href="#m-ast" x="136.43" y="405.00"/>
<use href="#m-ast" x="139.48" y="406.04"/>
<use href="#m-ast" x="142.53" y="407.10"/>
<use href="#m-ast" x="145.59" y="408.16"/>
<use href="#m-ast" x="148.64" y="409.12"/>
<use href="#m-ast" x="151.69" y="409.90"/>
<use href="#m-ast" x="154.74" y="410.71"/>
<use href="#m-ast" x="157.80" y="411.86"/>
<use href="#m-ast" x="160.85" y="413.85"/>
<use href="#m-ast" x="163.90" y="416.31"/>
<use href="#m-ast" x="166.95" y="419.19"/>
<use href="#m-ast" x="170.01" y="422.85"/>
<use href="#m-ast" x="173.06" y="427.84"/>
<use href="#m-ast" x="176.11" y="432.09"/>
<use href="#m-ast" x="179.16" y="435.92"/>
<use href="#m-ast" x="182.22" y="439.31"/>
<use href="#m-ast" x="185.27" y="442.64"/>
<use href="#m-ast" x="188.32" y="446.37"/>
<use href="#m-ast" x="191.37" y="450.07"/>
<use href="#m-ast" x="194.43" y="453.23"/>
<use href="#m-ast" x="197.48" y="455.86"/>
<use href="#m-ast" x="200.53" y="457.73"/>
<use href="#m-ast" x="203.58" y="458.93"/>
<use href="#m-ast" x="206.64" y="458.50"/>
<use href="#m-ast" x="209.69" y="457.00"/>
<use href="#m-ast" x="212.74" y="455.24"/>
<use href="#m-ast" x="215.79" y="453.89"/>
<use href="#m-ast" x="218.85" y="452.70"/>
<use href="#m-ast" x="221.90" y="451.52"/>
<use href="#m-ast" x="224.95" y="450.35"/>
<use href="#m-ast" x="228.00" y="449.28"/>
<use href="#m-ast" x="231.06" y="448.12"/>
<use href="#m-ast" x="234.11" y="446.63"/>
<use href="#m-ast" x="237.16" y="444.42"/>
<use href="#m-ast" x="240.21" y="441.73"/>
<use href="#m-ast" x="243.27" y="439.10"/>
<use href="#m-ast" x="246.32" y="436.63"/>
<use href="#m-ast" x="249.37" y="434.16"/>
<use href="#m-ast" x="252.42" y="431.69"/>
</g>
<g stroke="#1a1a1a" fill="none" stroke-width="0.6">
<use href="#m-plus" x="41.26" y="373.70"/>
<use href="#m-plus" x="43.58" y="375.83"/>
<use href="#m-plus" x="45.95" y="377.83"/>
<use href="#m-plus" x="48.38" y="379.80"/>
<use href="#m-plus" x="50.87" y="381.41"/>
<use href="#m-plus" x="53.43" y="382.58"/>
<use href="#m-plus" x="56.04" y="383.54"/>
<use href="#m-plus" x="58.73" y="384.34"/>
<use href="#m-plus" x="61.48" y="385.05"/>
<use href="#m-plus" x="64.30" y="385.67"/>
<use href="#m-plus" x="67.19" y="386.15"/>
<use href="#m-plus" x="70.15" y="386.45"/>
<use href="#m-plus" x="73.19" y="386.67"/>
<use href="#m-plus" x="76.30" y="386.89"/>
<use href="#m-plus" x="79.49" y="387.16"/>
<use href="#m-plus" x="82.76" y="387.44"/>
<use href="#m-plus" x="86.08" y="387.80"/>
<use href="#m-plus" x="89.41" y="388.30"/>
<use href="#m-plus" x="92.73" y="389.03"/>
<use href="#m-plus" x="96.06" y="389.79"/>
<use href="#m-plus" x="99.38" y="390.45"/>
<use href="#m-plus" x="102.71" y="391.10"/>
<use href="#m-plus" x="106.03" y="391.76"/>
<use href="#m-plus" x="109.36" y="392.44"/>
<use href="#m-plus" x="112.68" y="393.15"/>
<use href="#m-plus" x="116.01" y="393.83"/>
<use href="#m-plus" x="119.33" y="394.53"/>
<use href="#m-plus" x="122.66" y="395.23"/>
<use href="#m-plus" x="125.99" y="395.81"/>
<use href="#m-plus" x="129.31" y="396.13"/>
<use href="#m-plus" x="132.64" y="396.31"/>
<use href="#m-plus" x="135.96" y="396.45"/>
<use href="#m-plus" x="139.29" y="396.60"/>
<use href="#m-plus" x="142.61" y="396.77"/>
<use href="#m-plus" x="145.94" y="396.94"/>
<use href="#m-plus" x="149.26" y="397.15"/>
<use href="#m-plus" x="152.59" y="397.40"/>
<use href="#m-plus" x="155.91" y="397.68"/>
<use href="#m-plus" x="159.24" y="397.96"/>
<use href="#m-plus" x="162.56" y="398.26"/>
<use href="#m-plus" x="165.89" y="398.66"/>
<use href="#m-plus" x="169.21" y="399.24"/>
<use href="#m-plus" x="172.54" y="400.01"/>
<use href="#m-plus" x="175.87" y="401.05"/>
<use href="#m-plus" x="179.19" y="402.38"/>
<use href="#m-plus" x="182.52" y="404.08"/>
<use href="#m-plus" x="185.84" y="406.49"/>
<use href="#m-plus" x="189.17" y="409.19"/>
<use href="#m-plus" x="192.49" y="412.23"/>
<use href="#m-plus" x="195.82" y="415.07"/>
<use href="#m-plus" x="199.14" y="417.71"/>
<use href="#m-plus" x="202.47" y="420.13"/>
<use href="#m-plus" x="205.79" y="422.35"/>
<use href="#m-plus" x="209.12" y="424.34"/>
<use href="#m-plus" x="212.44" y="426.00"/>
<use href="#m-plus" x="215.77" y="427.82"/>
<use href="#m-plus" x="219.09" y="430.50"/>
<use href="#m-plus" x="222.42" y="433.06"/>
<use href="#m-plus" x="225.75" y="434.51"/>
<use href="#m-plus" x="229.07" y="435.65"/>
<use href="#m-plus" x="232.40" y="436.31"/>
<use href="#m-plus" x="235.72" y="436.15"/>
<use href="#m-plus" x="239.05" y="435.20"/>
<use href="#m-plus" x="242.37" y="433.91"/>
<use href="#m-plus" x="245.70" y="432.35"/>
<use href="#m-plus" x="249.02" y="430.28"/>
<use href="#m-plus" x="252.35" y="428.13"/>
<use href="#m-plus" x="255.67" y="426.15"/>
<use href="#m-plus" x="259.00" y="424.15"/>
<use href="#m-plus" x="262.32" y="422.39"/>
<use href="#m-plus" x="265.65" y="420.97"/>
<use href="#m-plus" x="268.97" y="419.70"/>
<use href="#m-plus" x="272.30" y="418.64"/>
</g>
<g stroke="#5cb830" fill="none" stroke-width="0.6">
<use href="#m-o" x="26.30" y="387.46"/>
<use href="#m-o" x="28.79" y="387.72"/>
<use href="#m-o" x="31.32" y="387.87"/>
<use href="#m-o" x="33.88" y="387.94"/>
<use href="#m-o" x="36.46" y="387.93"/>
<use href="#m-o" x="39.09" y="387.77"/>
<use href="#m-o" x="41.74" y="387.48"/>
<use href="#m-o" x="44.43" y="387.08"/>
<use href="#m-o" x="47.15" y="386.35"/>
<use href="#m-o" x="49.90" y="384.86"/>
<use href="#m-o" x="52.74" y="383.16"/>
<use href="#m-o" x="55.73" y="381.87"/>
<use href="#m-o" x="58.86" y="380.88"/>
<use href="#m-o" x="62.15" y="379.92"/>
<use href="#m-o" x="65.61" y="378.80"/>
<use href="#m-o" x="69.21" y="377.52"/>
<use href="#m-o" x="72.81" y="376.27"/>
<use href="#m-o" x="76.42" y="375.20"/>
<use href="#m-o" x="80.02" y="374.31"/>
<use href="#m-o" x="83.62" y="373.51"/>
<use href="#m-o" x="87.22" y="372.72"/>
<use href="#m-o" x="90.83" y="371.97"/>
<use href="#m-o" x="94.43" y="371.26"/>
<use href="#m-o" x="98.03" y="370.47"/>
<use href="#m-o" x="101.63" y="369.51"/>
<use href="#m-o" x="105.24" y="368.40"/>
<use href="#m-o" x="108.84" y="367.25"/>
<use href="#m-o" x="112.44" y="366.00"/>
<use href="#m-o" x="116.04" y="364.74"/>
<use href="#m-o" x="119.65" y="364.01"/>
<use href="#m-o" x="123.25" y="363.62"/>
<use href="#m-o" x="126.85" y="363.40"/>
<use href="#m-o" x="130.45" y="363.42"/>
<use href="#m-o" x="134.06" y="363.65"/>
<use href="#m-o" x="137.66" y="364.04"/>
<use href="#m-o" x="141.26" y="365.03"/>
<use href="#m-o" x="144.86" y="367.10"/>
<use href="#m-o" x="148.47" y="369.61"/>
<use href="#m-o" x="152.07" y="372.92"/>
<use href="#m-o" x="155.67" y="376.94"/>
<use href="#m-o" x="159.27" y="381.34"/>
<use href="#m-o" x="162.88" y="386.39"/>
<use href="#m-o" x="166.48" y="391.58"/>
<use href="#m-o" x="170.08" y="396.59"/>
<use href="#m-o" x="173.68" y="401.68"/>
<use href="#m-o" x="177.29" y="407.16"/>
<use href="#m-o" x="180.89" y="413.54"/>
<use href="#m-o" x="184.49" y="419.77"/>
<use href="#m-o" x="188.09" y="424.75"/>
<use href="#m-o" x="191.70" y="429.07"/>
<use href="#m-o" x="195.30" y="432.40"/>
<use href="#m-o" x="198.90" y="435.12"/>
<use href="#m-o" x="202.50" y="437.07"/>
<use href="#m-o" x="206.10" y="437.23"/>
<use href="#m-o" x="209.71" y="436.53"/>
<use href="#m-o" x="213.31" y="435.59"/>
<use href="#m-o" x="216.91" y="434.71"/>
<use href="#m-o" x="220.51" y="433.70"/>
<use href="#m-o" x="224.12" y="432.49"/>
<use href="#m-o" x="227.72" y="430.96"/>
<use href="#m-o" x="231.32" y="429.09"/>
<use href="#m-o" x="234.92" y="426.86"/>
<use href="#m-o" x="238.53" y="423.95"/>
<use href="#m-o" x="242.13" y="420.85"/>
<use href="#m-o" x="245.73" y="417.90"/>
<use href="#m-o" x="249.33" y="414.94"/>
<use href="#m-o" x="252.94" y="412.55"/>
<use href="#m-o" x="256.54" y="410.83"/>
<use href="#m-o" x="260.14" y="409.59"/>
</g>
<g stroke="#e8242c" fill="none" stroke-width="0.6">
<use href="#m-s" x="44.59" y="401.47"/>
<use href="#m-s" x="47.89" y="400.60"/>
<use href="#m-s" x="51.19" y="399.70"/>
<use href="#m-s" x="54.49" y="398.78"/>
<use href="#m-s" x="57.80" y="397.79"/>
<use href="#m-s" x="61.10" y="396.77"/>
<use href="#m-s" x="64.40" y="395.85"/>
<use href="#m-s" x="67.70" y="395.13"/>
<use href="#m-s" x="71.00" y="394.50"/>
<use href="#m-s" x="74.30" y="393.76"/>
<use href="#m-s" x="77.61" y="392.82"/>
<use href="#m-s" x="80.91" y="391.75"/>
<use href="#m-s" x="84.21" y="390.60"/>
<use href="#m-s" x="87.51" y="389.28"/>
<use href="#m-s" x="90.81" y="387.91"/>
<use href="#m-s" x="94.11" y="386.72"/>
<use href="#m-s" x="97.41" y="385.78"/>
<use href="#m-s" x="100.72" y="384.88"/>
<use href="#m-s" x="104.02" y="383.83"/>
<use href="#m-s" x="107.32" y="382.43"/>
<use href="#m-s" x="110.62" y="381.19"/>
<use href="#m-s" x="113.92" y="380.55"/>
<use href="#m-s" x="117.22" y="380.11"/>
<use href="#m-s" x="120.53" y="379.86"/>
<use href="#m-s" x="123.83" y="379.84"/>
<use href="#m-s" x="127.13" y="379.87"/>
<use href="#m-s" x="130.43" y="379.91"/>
<use href="#m-s" x="133.73" y="379.97"/>
<use href="#m-s" x="137.03" y="380.05"/>
<use href="#m-s" x="140.34" y="380.38"/>
<use href="#m-s" x="143.64" y="381.57"/>
<use href="#m-s" x="146.94" y="383.17"/>
<use href="#m-s" x="150.24" y="384.99"/>
<use href="#m-s" x="153.54" y="387.36"/>
<use href="#m-s" x="156.84" y="389.96"/>
<use href="#m-s" x="160.14" y="392.71"/>
<use href="#m-s" x="163.45" y="395.70"/>
<use href="#m-s" x="166.75" y="398.80"/>
<use href="#m-s" x="170.05" y="402.04"/>
<use href="#m-s" x="173.35" y="405.37"/>
<use href="#m-s" x="176.65" y="408.69"/>
<use href="#m-s" x="179.95" y="411.89"/>
<use href="#m-s" x="183.26" y="415.03"/>
<use href="#m-s" x="186.56" y="418.32"/>
<use href="#m-s" x="189.86" y="421.98"/>
<use href="#m-s" x="193.16" y="426.03"/>
<use href="#m-s" x="196.46" y="430.51"/>
<use href="#m-s" x="199.76" y="435.63"/>
<use href="#m-s" x="203.07" y="441.76"/>
<use href="#m-s" x="206.37" y="447.58"/>
<use href="#m-s" x="209.67" y="452.96"/>
<use href="#m-s" x="212.97" y="457.46"/>
<use href="#m-s" x="216.27" y="459.80"/>
<use href="#m-s" x="219.57" y="461.51"/>
<use href="#m-s" x="222.87" y="462.38"/>
<use href="#m-s" x="226.18" y="462.41"/>
<use href="#m-s" x="229.48" y="462.41"/>
<use href="#m-s" x="232.78" y="462.41"/>
<use href="#m-s" x="236.08" y="461.72"/>
<use href="#m-s" x="239.38" y="459.40"/>
<use href="#m-s" x="242.68" y="456.74"/>
<use href="#m-s" x="245.99" y="454.28"/>
<use href="#m-s" x="249.29" y="451.61"/>
<use href="#m-s" x="252.59" y="449.15"/>
<use href="#m-s" x="255.89" y="447.20"/>
<use href="#m-s" x="259.19" y="445.49"/>
<use href="#m-s" x="262.49" y="443.56"/>
<use href="#m-s" x="265.80" y="440.87"/>
<use href="#m-s" x="269.10" y="437.69"/>
<use href="#m-s" x="272.40" y="434.97"/>
<use href="#m-s" x="275.70" y="432.92"/>
</g>
<g stroke="#c03cbc" fill="none" stroke-width="0.6">
<use href="#m-up" x="62.32" y="380.58"/>
<use href="#m-up" x="65.68" y="379.44"/>
<use href="#m-up" x="69.03" y="378.05"/>
<use href="#m-up" x="72.38" y="376.47"/>
<use href="#m-up" x="75.73" y="374.59"/>
<use href="#m-up" x="79.08" y="372.10"/>
<use href="#m-up" x="82.43" y="369.93"/>
<use href="#m-up" x="85.78" y="368.80"/>
<use href="#m-up" x="89.13" y="368.09"/>
<use href="#m-up" x="92.49" y="367.32"/>
<use href="#m-up" x="95.84" y="366.10"/>
<use href="#m-up" x="99.19" y="364.48"/>
<use href="#m-up" x="102.54" y="362.97"/>
<use href="#m-up" x="105.89" y="361.81"/>
<use href="#m-up" x="109.24" y="360.79"/>
<use href="#m-up" x="112.59" y="359.81"/>
<use href="#m-up" x="115.95" y="358.83"/>
<use href="#m-up" x="119.30" y="358.46"/>
<use href="#m-up" x="122.65" y="358.66"/>
<use href="#m-up" x="126.00" y="359.08"/>
<use href="#m-up" x="129.35" y="359.65"/>
<use href="#m-up" x="132.70" y="360.70"/>
<use href="#m-up" x="136.05" y="362.21"/>
<use href="#m-up" x="139.40" y="364.09"/>
<use href="#m-up" x="142.76" y="366.85"/>
<use href="#m-up" x="146.11" y="370.28"/>
<use href="#m-up" x="149.46" y="374.08"/>
<use href="#m-up" x="152.81" y="378.66"/>
<use href="#m-up" x="156.16" y="383.31"/>
<use href="#m-up" x="159.51" y="387.40"/>
<use href="#m-up" x="162.86" y="391.22"/>
<use href="#m-up" x="166.22" y="395.05"/>
<use href="#m-up" x="169.57" y="399.10"/>
<use href="#m-up" x="172.92" y="403.27"/>
<use href="#m-up" x="176.27" y="407.35"/>
<use href="#m-up" x="179.62" y="411.21"/>
<use href="#m-up" x="182.97" y="414.96"/>
<use href="#m-up" x="186.32" y="418.62"/>
<use href="#m-up" x="189.67" y="422.15"/>
<use href="#m-up" x="193.03" y="425.60"/>
<use href="#m-up" x="196.38" y="429.15"/>
<use href="#m-up" x="199.73" y="433.15"/>
<use href="#m-up" x="203.08" y="436.57"/>
<use href="#m-up" x="206.43" y="438.56"/>
<use href="#m-up" x="209.78" y="440.06"/>
<use href="#m-up" x="213.13" y="441.08"/>
<use href="#m-up" x="216.48" y="441.64"/>
<use href="#m-up" x="219.84" y="442.06"/>
<use href="#m-up" x="223.19" y="442.26"/>
<use href="#m-up" x="226.54" y="441.91"/>
<use href="#m-up" x="229.89" y="440.86"/>
<use href="#m-up" x="233.24" y="439.46"/>
<use href="#m-up" x="236.59" y="437.44"/>
<use href="#m-up" x="239.94" y="434.51"/>
<use href="#m-up" x="243.30" y="431.43"/>
<use href="#m-up" x="246.65" y="428.22"/>
<use href="#m-up" x="250.00" y="424.86"/>
<use href="#m-up" x="253.35" y="421.80"/>
<use href="#m-up" x="256.70" y="419.19"/>
<use href="#m-up" x="260.05" y="416.74"/>
<use href="#m-up" x="263.40" y="414.11"/>
<use href="#m-up" x="266.75" y="410.87"/>
<use href="#m-up" x="270.11" y="407.76"/>
<use href="#m-up" x="273.46" y="405.82"/>
<use href="#m-up" x="276.81" y="404.66"/>
</g>
<g stroke="#e0622e" fill="none" stroke-width="0.6">
<use href="#m-dn" x="47.91" y="307.84"/>
<use href="#m-dn" x="51.45" y="310.19"/>
<use href="#m-dn" x="54.98" y="313.12"/>
<use href="#m-dn" x="58.51" y="316.71"/>
<use href="#m-dn" x="62.05" y="320.99"/>
<use href="#m-dn" x="65.58" y="326.05"/>
<use href="#m-dn" x="69.11" y="332.33"/>
<use href="#m-dn" x="72.65" y="340.75"/>
<use href="#m-dn" x="76.18" y="347.07"/>
<use href="#m-dn" x="79.71" y="352.01"/>
<use href="#m-dn" x="83.25" y="357.38"/>
<use href="#m-dn" x="86.78" y="362.36"/>
<use href="#m-dn" x="90.31" y="365.49"/>
<use href="#m-dn" x="93.85" y="367.89"/>
<use href="#m-dn" x="97.38" y="370.63"/>
<use href="#m-dn" x="100.91" y="374.38"/>
<use href="#m-dn" x="104.45" y="378.37"/>
<use href="#m-dn" x="107.98" y="382.21"/>
<use href="#m-dn" x="111.51" y="385.07"/>
<use href="#m-dn" x="115.04" y="387.31"/>
<use href="#m-dn" x="118.58" y="389.06"/>
<use href="#m-dn" x="122.11" y="390.25"/>
<use href="#m-dn" x="125.64" y="391.20"/>
<use href="#m-dn" x="129.18" y="392.55"/>
<use href="#m-dn" x="132.71" y="394.71"/>
<use href="#m-dn" x="136.24" y="397.40"/>
<use href="#m-dn" x="139.78" y="400.33"/>
<use href="#m-dn" x="143.31" y="403.89"/>
<use href="#m-dn" x="146.84" y="407.22"/>
<use href="#m-dn" x="150.38" y="409.74"/>
<use href="#m-dn" x="153.91" y="411.89"/>
<use href="#m-dn" x="157.44" y="413.37"/>
<use href="#m-dn" x="160.98" y="414.22"/>
<use href="#m-dn" x="164.51" y="414.88"/>
<use href="#m-dn" x="168.04" y="415.75"/>
<use href="#m-dn" x="171.58" y="416.88"/>
<use href="#m-dn" x="175.11" y="418.28"/>
<use href="#m-dn" x="178.64" y="420.09"/>
<use href="#m-dn" x="182.18" y="422.53"/>
<use href="#m-dn" x="185.71" y="425.38"/>
<use href="#m-dn" x="189.24" y="428.71"/>
<use href="#m-dn" x="192.77" y="432.56"/>
<use href="#m-dn" x="196.31" y="436.46"/>
<use href="#m-dn" x="199.84" y="440.73"/>
<use href="#m-dn" x="203.37" y="444.53"/>
<use href="#m-dn" x="206.91" y="447.31"/>
<use href="#m-dn" x="210.44" y="449.74"/>
<use href="#m-dn" x="213.97" y="450.86"/>
<use href="#m-dn" x="217.51" y="450.86"/>
<use href="#m-dn" x="221.04" y="450.86"/>
<use href="#m-dn" x="224.57" y="450.80"/>
<use href="#m-dn" x="228.11" y="449.77"/>
<use href="#m-dn" x="231.64" y="447.99"/>
<use href="#m-dn" x="235.17" y="445.96"/>
<use href="#m-dn" x="238.71" y="443.17"/>
<use href="#m-dn" x="242.24" y="439.99"/>
<use href="#m-dn" x="245.77" y="436.71"/>
<use href="#m-dn" x="249.31" y="433.17"/>
<use href="#m-dn" x="252.84" y="429.85"/>
<use href="#m-dn" x="256.37" y="426.78"/>
<use href="#m-dn" x="259.90" y="423.94"/>
<use href="#m-dn" x="263.44" y="421.88"/>
<use href="#m-dn" x="266.97" y="420.34"/>
<use href="#m-dn" x="270.50" y="419.12"/>
<use href="#m-dn" x="274.04" y="418.42"/>
</g>
<path d="M109.43,278.1V474.7M235.80,278.1V474.7" stroke="#666" stroke-width="1.0" fill="none"/>
<path d="M26.30,474.7v-2.5M26.30,278.1v2.5M54.01,474.7v-2.5M54.01,278.1v2.5M81.72,474.7v-2.5M81.72,278.1v2.5M109.43,474.7v-2.5M109.43,278.1v2.5M137.14,474.7v-2.5M137.14,278.1v2.5M164.86,474.7v-2.5M164.86,278.1v2.5M192.57,474.7v-2.5M192.57,278.1v2.5M220.28,474.7v-2.5M220.28,278.1v2.5M247.99,474.7v-2.5M247.99,278.1v2.5M275.70,474.7v-2.5M275.70,278.1v2.5M26.3,474.70h2.5M275.7,474.70h-2.5M26.3,450.12h2.5M275.7,450.12h-2.5M26.3,425.55h2.5M275.7,425.55h-2.5M26.3,400.98h2.5M275.7,400.98h-2.5M26.3,376.40h2.5M275.7,376.40h-2.5M26.3,351.83h2.5M275.7,351.83h-2.5M26.3,327.25h2.5M275.7,327.25h-2.5M26.3,302.68h2.5M275.7,302.68h-2.5M26.3,278.10h2.5M275.7,278.10h-2.5" stroke="#777" stroke-width="0.6" fill="none"/>
<rect x="26.3" y="278.1" width="249.39999999999998" height="196.59999999999997" fill="none" stroke="#8a8a8a" stroke-width="0.9"/>
<text x="26.30" y="486.00" text-anchor="middle" font-family='"Liberation Sans", sans-serif' font-size="8.3" fill="#3a3a3a">-1.5</text>
<text x="54.01" y="486.00" text-anchor="middle" font-family='"Liberation Sans", sans-serif' font-size="8.3" fill="#3a3a3a">-1</text>
<text x="81.72" y="486.00" text-anchor="middle" font-family='"Liberation Sans", sans-serif' font-size="8.3" fill="#3a3a3a">-0.5</text>
<text x="109.43" y="486.00" text-anchor="middle" font-family='"Liberation Sans", sans-serif' font-size="8.3" fill="#3a3a3a">0</text>
<text x="137.14" y="486.00" text-anchor="middle" font-family='"Liberation Sans", sans-serif' font-size="8.3" fill="#3a3a3a">0.5</text>
<text x="164.86" y="486.00" text-anchor="middle" font-family='"Liberation Sans", sans-serif' font-size="8.3" fill="#3a3a3a">1</text>
<text x="192.57" y="486.00" text-anchor="middle" font-family='"Liberation Sans", sans-serif' font-size="8.3" fill="#3a3a3a">1.5</text>
<text x="220.28" y="486.00" text-anchor="middle" font-family='"Liberation Sans", sans-serif' font-size="8.3" fill="#3a3a3a">2</text>
<text x="247.99" y="486.00" text-anchor="middle" font-family='"Liberation Sans", sans-serif' font-size="8.3" fill="#3a3a3a">2.5</text>
<text x="275.70" y="486.00" text-anchor="middle" font-family='"Liberation Sans", sans-serif' font-size="8.3" fill="#3a3a3a">3</text>
<text x="23.10" y="478.20" text-anchor="end" font-family='"Liberation Sans", sans-serif' font-size="8.3" fill="#3a3a3a">-30</text>
<text x="23.10" y="453.62" text-anchor="end" font-family='"Liberation Sans", sans-serif' font-size="8.3" fill="#3a3a3a">-20</text>
<text x="23.10" y="429.05" text-anchor="end" font-family='"Liberation Sans", sans-serif' font-size="8.3" fill="#3a3a3a">-10</text>
<text x="23.10" y="404.48" text-anchor="end" font-family='"Liberation Sans", sans-serif' font-size="8.3" fill="#3a3a3a">0</text>
<text x="23.10" y="379.90" text-anchor="end" font-family='"Liberation Sans", sans-serif' font-size="8.3" fill="#3a3a3a">10</text>
<text x="23.10" y="355.33" text-anchor="end" font-family='"Liberation Sans", sans-serif' font-size="8.3" fill="#3a3a3a">20</text>
<text x="23.10" y="330.75" text-anchor="end" font-family='"Liberation Sans", sans-serif' font-size="8.3" fill="#3a3a3a">30</text>
<text x="23.10" y="306.18" text-anchor="end" font-family='"Liberation Sans", sans-serif' font-size="8.3" fill="#3a3a3a">40</text>
<text x="23.10" y="281.60" text-anchor="end" font-family='"Liberation Sans", sans-serif' font-size="8.3" fill="#3a3a3a">50</text>
<text x="151.00" y="495.30" text-anchor="middle" font-family='"Liberation Serif", serif' font-style="italic" font-size="9" fill="#555">x</text>
<path d="M149.80,490.30L151.20,489.30L152.60,490.30" stroke="#666" stroke-width="0.6" fill="none"/>
<text transform="translate(7.70,376.40) rotate(-90)" text-anchor="middle" font-family='"Liberation Sans", sans-serif' font-size="8.7" fill="#3a3a3a"><tspan font-family='"Liberation Serif", serif' font-style="italic">α</tspan> [deg]</text>
<rect x="319.7" y="276.9" width="250.50000000000006" height="197.60000000000002" fill="#fff"/>
<rect x="403.20" y="276.9" width="126.92" height="197.60000000000002" fill="#eff6f8"/>
<path d="M347.53,276.9V474.5M375.37,276.9V474.5M403.20,276.9V474.5M431.03,276.9V474.5M458.87,276.9V474.5M486.70,276.9V474.5M514.53,276.9V474.5M542.37,276.9V474.5M319.7,449.80H570.2M319.7,425.10H570.2M319.7,400.40H570.2M319.7,375.70H570.2M319.7,351.00H570.2M319.7,326.30H570.2M319.7,301.60H570.2" stroke="#e4e7e9" stroke-width="0.6" fill="none"/>
<text x="417.5" y="453.4" font-family='"Liberation Sans", sans-serif' font-size="8.3" fill="#1a1a1a" textLength="45.3" lengthAdjust="spacingAndGlyphs">Fan Region</text>
<g stroke="#3549b8" fill="none" stroke-width="0.6">
<use href="#m-ast" x="343.08" y="389.04"/>
<use href="#m-ast" x="346.14" y="392.12"/>
<use href="#m-ast" x="349.20" y="394.65"/>
<use href="#m-ast" x="352.25" y="396.42"/>
<use href="#m-ast" x="355.31" y="397.77"/>
<use href="#m-ast" x="358.37" y="398.84"/>
<use href="#m-ast" x="361.43" y="399.70"/>
<use href="#m-ast" x="364.48" y="400.43"/>
<use href="#m-ast" x="367.54" y="401.03"/>
<use href="#m-ast" x="370.60" y="401.50"/>
<use href="#m-ast" x="373.66" y="401.94"/>
<use href="#m-ast" x="376.72" y="402.27"/>
<use href="#m-ast" x="379.77" y="402.36"/>
<use href="#m-ast" x="382.83" y="401.91"/>
<use href="#m-ast" x="385.89" y="401.13"/>
<use href="#m-ast" x="388.95" y="400.45"/>
<use href="#m-ast" x="392.00" y="400.01"/>
<use href="#m-ast" x="395.06" y="399.63"/>
<use href="#m-ast" x="398.12" y="399.42"/>
<use href="#m-ast" x="401.18" y="399.71"/>
<use href="#m-ast" x="404.23" y="400.64"/>
<use href="#m-ast" x="407.29" y="401.65"/>
<use href="#m-ast" x="410.35" y="402.41"/>
<use href="#m-ast" x="413.41" y="403.20"/>
<use href="#m-ast" x="416.47" y="403.75"/>
<use href="#m-ast" x="419.52" y="403.82"/>
<use href="#m-ast" x="422.58" y="403.49"/>
<use href="#m-ast" x="425.64" y="402.96"/>
<use href="#m-ast" x="428.70" y="402.39"/>
<use href="#m-ast" x="431.75" y="401.69"/>
<use href="#m-ast" x="434.81" y="400.86"/>
<use href="#m-ast" x="437.87" y="400.41"/>
<use href="#m-ast" x="440.93" y="400.50"/>
<use href="#m-ast" x="443.99" y="400.81"/>
<use href="#m-ast" x="447.04" y="401.27"/>
<use href="#m-ast" x="450.10" y="402.15"/>
<use href="#m-ast" x="453.16" y="403.88"/>
<use href="#m-ast" x="456.22" y="406.01"/>
<use href="#m-ast" x="459.27" y="408.12"/>
<use href="#m-ast" x="462.33" y="410.46"/>
<use href="#m-ast" x="465.39" y="413.06"/>
<use href="#m-ast" x="468.45" y="415.89"/>
<use href="#m-ast" x="471.51" y="419.01"/>
<use href="#m-ast" x="474.56" y="422.47"/>
<use href="#m-ast" x="477.62" y="426.41"/>
<use href="#m-ast" x="480.68" y="431.40"/>
<use href="#m-ast" x="483.74" y="436.00"/>
<use href="#m-ast" x="486.79" y="439.36"/>
<use href="#m-ast" x="489.85" y="442.01"/>
<use href="#m-ast" x="492.91" y="444.25"/>
<use href="#m-ast" x="495.97" y="445.89"/>
<use href="#m-ast" x="499.03" y="445.67"/>
<use href="#m-ast" x="502.08" y="443.62"/>
<use href="#m-ast" x="505.14" y="441.16"/>
<use href="#m-ast" x="508.20" y="438.06"/>
<use href="#m-ast" x="511.26" y="435.15"/>
<use href="#m-ast" x="514.31" y="432.37"/>
<use href="#m-ast" x="517.37" y="429.83"/>
<use href="#m-ast" x="520.43" y="427.89"/>
<use href="#m-ast" x="523.49" y="426.53"/>
<use href="#m-ast" x="526.54" y="425.41"/>
<use href="#m-ast" x="529.60" y="424.31"/>
<use href="#m-ast" x="532.66" y="423.12"/>
<use href="#m-ast" x="535.72" y="421.92"/>
<use href="#m-ast" x="538.78" y="420.71"/>
<use href="#m-ast" x="541.83" y="419.46"/>
<use href="#m-ast" x="544.89" y="418.17"/>
<use href="#m-ast" x="547.95" y="416.88"/>
<use href="#m-ast" x="551.01" y="415.62"/>
<use href="#m-ast" x="554.06" y="414.39"/>
<use href="#m-ast" x="557.12" y="413.19"/>
<use href="#m-ast" x="560.18" y="412.01"/>
</g>
<g stroke="#1a1a1a" fill="none" stroke-width="0.6">
<use href="#m-plus" x="321.93" y="376.94"/>
<use href="#m-plus" x="324.20" y="377.43"/>
<use href="#m-plus" x="326.51" y="378.10"/>
<use href="#m-plus" x="328.88" y="378.94"/>
<use href="#m-plus" x="331.29" y="380.08"/>
<use href="#m-plus" x="333.75" y="381.41"/>
<use href="#m-plus" x="336.25" y="382.75"/>
<use href="#m-plus" x="338.81" y="384.12"/>
<use href="#m-plus" x="341.42" y="385.67"/>
<use href="#m-plus" x="344.08" y="387.09"/>
<use href="#m-plus" x="346.80" y="388.02"/>
<use href="#m-plus" x="349.56" y="388.47"/>
<use href="#m-plus" x="352.39" y="388.82"/>
<use href="#m-plus" x="355.27" y="389.02"/>
<use href="#m-plus" x="358.21" y="389.04"/>
<use href="#m-plus" x="361.20" y="389.04"/>
<use href="#m-plus" x="364.26" y="389.04"/>
<use href="#m-plus" x="367.38" y="389.00"/>
<use href="#m-plus" x="370.56" y="388.73"/>
<use href="#m-plus" x="373.80" y="388.29"/>
<use href="#m-plus" x="377.11" y="387.69"/>
<use href="#m-plus" x="380.45" y="386.66"/>
<use href="#m-plus" x="383.79" y="385.53"/>
<use href="#m-plus" x="387.13" y="384.63"/>
<use href="#m-plus" x="390.47" y="383.72"/>
<use href="#m-plus" x="393.81" y="383.15"/>
<use href="#m-plus" x="397.15" y="383.15"/>
<use href="#m-plus" x="400.49" y="383.30"/>
<use href="#m-plus" x="403.83" y="383.56"/>
<use href="#m-plus" x="407.17" y="384.17"/>
<use href="#m-plus" x="410.51" y="385.25"/>
<use href="#m-plus" x="413.85" y="386.33"/>
<use href="#m-plus" x="417.19" y="387.48"/>
<use href="#m-plus" x="420.53" y="388.43"/>
<use href="#m-plus" x="423.87" y="389.26"/>
<use href="#m-plus" x="427.21" y="390.09"/>
<use href="#m-plus" x="430.55" y="391.05"/>
<use href="#m-plus" x="433.89" y="392.18"/>
<use href="#m-plus" x="437.23" y="393.22"/>
<use href="#m-plus" x="440.57" y="393.96"/>
<use href="#m-plus" x="443.91" y="394.54"/>
<use href="#m-plus" x="447.25" y="395.12"/>
<use href="#m-plus" x="450.59" y="395.76"/>
<use href="#m-plus" x="453.93" y="396.42"/>
<use href="#m-plus" x="457.27" y="397.28"/>
<use href="#m-plus" x="460.61" y="398.71"/>
<use href="#m-plus" x="463.95" y="400.82"/>
<use href="#m-plus" x="467.29" y="403.17"/>
<use href="#m-plus" x="470.63" y="405.81"/>
<use href="#m-plus" x="473.97" y="408.73"/>
<use href="#m-plus" x="477.31" y="411.52"/>
<use href="#m-plus" x="480.65" y="414.08"/>
<use href="#m-plus" x="483.99" y="416.59"/>
<use href="#m-plus" x="487.33" y="419.18"/>
<use href="#m-plus" x="490.67" y="421.90"/>
<use href="#m-plus" x="494.01" y="424.63"/>
<use href="#m-plus" x="497.35" y="427.27"/>
<use href="#m-plus" x="500.69" y="429.94"/>
<use href="#m-plus" x="504.03" y="432.42"/>
<use href="#m-plus" x="507.37" y="434.40"/>
<use href="#m-plus" x="510.71" y="436.13"/>
<use href="#m-plus" x="514.05" y="437.34"/>
<use href="#m-plus" x="517.39" y="437.97"/>
<use href="#m-plus" x="520.73" y="438.18"/>
<use href="#m-plus" x="524.07" y="437.79"/>
<use href="#m-plus" x="527.41" y="437.00"/>
<use href="#m-plus" x="530.75" y="436.00"/>
<use href="#m-plus" x="534.09" y="434.22"/>
<use href="#m-plus" x="537.43" y="431.86"/>
<use href="#m-plus" x="540.77" y="429.66"/>
<use href="#m-plus" x="544.11" y="427.72"/>
<use href="#m-plus" x="547.45" y="425.77"/>
<use href="#m-plus" x="550.79" y="423.71"/>
<use href="#m-plus" x="554.13" y="421.46"/>
<use href="#m-plus" x="557.47" y="419.12"/>
<use href="#m-plus" x="560.81" y="416.75"/>
<use href="#m-plus" x="564.15" y="414.34"/>
</g>
<g stroke="#5cb830" fill="none" stroke-width="0.6">
<use href="#m-o" x="320.26" y="376.94"/>
<use href="#m-o" x="322.22" y="376.49"/>
<use href="#m-o" x="324.23" y="376.19"/>
<use href="#m-o" x="326.29" y="376.02"/>
<use href="#m-o" x="328.40" y="375.95"/>
<use href="#m-o" x="330.57" y="376.06"/>
<use href="#m-o" x="332.79" y="376.54"/>
<use href="#m-o" x="335.07" y="377.12"/>
<use href="#m-o" x="337.40" y="377.46"/>
<use href="#m-o" x="339.79" y="377.64"/>
<use href="#m-o" x="342.24" y="377.79"/>
<use href="#m-o" x="344.76" y="377.89"/>
<use href="#m-o" x="347.46" y="377.92"/>
<use href="#m-o" x="350.33" y="377.67"/>
<use href="#m-o" x="353.39" y="377.13"/>
<use href="#m-o" x="356.65" y="376.39"/>
<use href="#m-o" x="360.14" y="375.10"/>
<use href="#m-o" x="363.76" y="373.29"/>
<use href="#m-o" x="367.38" y="371.54"/>
<use href="#m-o" x="370.99" y="369.68"/>
<use href="#m-o" x="374.61" y="368.06"/>
<use href="#m-o" x="378.23" y="366.95"/>
<use href="#m-o" x="381.85" y="366.08"/>
<use href="#m-o" x="385.47" y="365.31"/>
<use href="#m-o" x="389.09" y="364.57"/>
<use href="#m-o" x="392.70" y="363.92"/>
<use href="#m-o" x="396.32" y="363.42"/>
<use href="#m-o" x="399.94" y="363.09"/>
<use href="#m-o" x="403.56" y="362.71"/>
<use href="#m-o" x="407.18" y="361.98"/>
<use href="#m-o" x="410.80" y="361.03"/>
<use href="#m-o" x="414.41" y="360.32"/>
<use href="#m-o" x="418.03" y="359.89"/>
<use href="#m-o" x="421.65" y="359.98"/>
<use href="#m-o" x="425.27" y="360.24"/>
<use href="#m-o" x="428.89" y="360.64"/>
<use href="#m-o" x="432.51" y="361.83"/>
<use href="#m-o" x="436.12" y="363.93"/>
<use href="#m-o" x="439.74" y="366.38"/>
<use href="#m-o" x="443.36" y="369.61"/>
<use href="#m-o" x="446.98" y="373.23"/>
<use href="#m-o" x="450.60" y="376.82"/>
<use href="#m-o" x="454.22" y="380.57"/>
<use href="#m-o" x="457.83" y="384.43"/>
<use href="#m-o" x="461.45" y="388.51"/>
<use href="#m-o" x="465.07" y="392.65"/>
<use href="#m-o" x="468.69" y="396.50"/>
<use href="#m-o" x="472.31" y="400.23"/>
<use href="#m-o" x="475.93" y="403.52"/>
<use href="#m-o" x="479.54" y="406.15"/>
<use href="#m-o" x="483.16" y="408.42"/>
<use href="#m-o" x="486.78" y="410.32"/>
<use href="#m-o" x="490.40" y="411.75"/>
<use href="#m-o" x="494.02" y="413.04"/>
<use href="#m-o" x="497.64" y="414.80"/>
<use href="#m-o" x="501.25" y="417.27"/>
<use href="#m-o" x="504.87" y="419.97"/>
<use href="#m-o" x="508.49" y="422.49"/>
<use href="#m-o" x="512.11" y="424.98"/>
<use href="#m-o" x="515.73" y="427.42"/>
<use href="#m-o" x="519.35" y="429.80"/>
<use href="#m-o" x="522.96" y="430.57"/>
<use href="#m-o" x="526.58" y="429.82"/>
<use href="#m-o" x="530.20" y="421.23"/>
<use href="#m-o" x="533.82" y="417.36"/>
<use href="#m-o" x="537.44" y="414.69"/>
<use href="#m-o" x="541.06" y="412.86"/>
<use href="#m-o" x="544.67" y="411.58"/>
<use href="#m-o" x="548.29" y="410.55"/>
<use href="#m-o" x="551.91" y="409.55"/>
<use href="#m-o" x="555.53" y="408.62"/>
</g>
<g stroke="#e8242c" fill="none" stroke-width="0.6">
<use href="#m-s" x="331.39" y="391.26"/>
<use href="#m-s" x="333.37" y="390.70"/>
<use href="#m-s" x="335.44" y="390.11"/>
<use href="#m-s" x="337.62" y="389.48"/>
<use href="#m-s" x="339.91" y="388.82"/>
<use href="#m-s" x="342.31" y="388.12"/>
<use href="#m-s" x="344.83" y="387.39"/>
<use href="#m-s" x="347.48" y="386.62"/>
<use href="#m-s" x="350.26" y="385.77"/>
<use href="#m-s" x="353.23" y="384.76"/>
<use href="#m-s" x="356.39" y="383.56"/>
<use href="#m-s" x="359.76" y="382.50"/>
<use href="#m-s" x="363.36" y="381.74"/>
<use href="#m-s" x="367.20" y="381.11"/>
<use href="#m-s" x="371.10" y="380.84"/>
<use href="#m-s" x="374.99" y="380.75"/>
<use href="#m-s" x="378.89" y="380.65"/>
<use href="#m-s" x="382.79" y="380.47"/>
<use href="#m-s" x="386.68" y="380.18"/>
<use href="#m-s" x="390.58" y="379.65"/>
<use href="#m-s" x="394.48" y="378.15"/>
<use href="#m-s" x="398.37" y="376.34"/>
<use href="#m-s" x="402.27" y="374.53"/>
<use href="#m-s" x="406.17" y="372.86"/>
<use href="#m-s" x="410.06" y="372.41"/>
<use href="#m-s" x="413.96" y="372.29"/>
<use href="#m-s" x="417.86" y="372.24"/>
<use href="#m-s" x="421.75" y="372.49"/>
<use href="#m-s" x="425.65" y="373.21"/>
<use href="#m-s" x="429.55" y="374.18"/>
<use href="#m-s" x="433.44" y="375.96"/>
<use href="#m-s" x="437.34" y="378.34"/>
<use href="#m-s" x="441.24" y="380.85"/>
<use href="#m-s" x="445.13" y="383.73"/>
<use href="#m-s" x="449.03" y="386.94"/>
<use href="#m-s" x="452.93" y="390.62"/>
<use href="#m-s" x="456.82" y="394.53"/>
<use href="#m-s" x="460.72" y="398.51"/>
<use href="#m-s" x="464.62" y="402.59"/>
<use href="#m-s" x="468.51" y="406.25"/>
<use href="#m-s" x="472.41" y="409.55"/>
<use href="#m-s" x="476.31" y="412.49"/>
<use href="#m-s" x="480.20" y="415.08"/>
<use href="#m-s" x="484.10" y="417.39"/>
<use href="#m-s" x="488.00" y="419.24"/>
<use href="#m-s" x="491.89" y="420.76"/>
<use href="#m-s" x="495.79" y="422.02"/>
<use href="#m-s" x="499.69" y="423.04"/>
<use href="#m-s" x="503.58" y="423.92"/>
<use href="#m-s" x="507.48" y="424.99"/>
<use href="#m-s" x="511.38" y="426.26"/>
<use href="#m-s" x="515.27" y="427.96"/>
<use href="#m-s" x="519.14" y="430.63"/>
<use href="#m-s" x="522.89" y="433.21"/>
<use href="#m-s" x="526.51" y="435.71"/>
<use href="#m-s" x="530.00" y="437.41"/>
<use href="#m-s" x="533.38" y="438.39"/>
<use href="#m-s" x="536.72" y="439.12"/>
<use href="#m-s" x="540.06" y="439.43"/>
<use href="#m-s" x="543.40" y="439.25"/>
<use href="#m-s" x="546.74" y="438.79"/>
<use href="#m-s" x="550.08" y="438.20"/>
<use href="#m-s" x="553.42" y="437.35"/>
<use href="#m-s" x="556.76" y="436.14"/>
<use href="#m-s" x="560.10" y="434.76"/>
<use href="#m-s" x="563.44" y="433.22"/>
</g>
<g stroke="#c03cbc" fill="none" stroke-width="0.6">
<use href="#m-up" x="360.34" y="374.96"/>
<use href="#m-up" x="363.67" y="373.89"/>
<use href="#m-up" x="367.00" y="372.54"/>
<use href="#m-up" x="370.33" y="370.99"/>
<use href="#m-up" x="373.66" y="368.95"/>
<use href="#m-up" x="376.99" y="366.69"/>
<use href="#m-up" x="380.32" y="364.76"/>
<use href="#m-up" x="383.65" y="363.09"/>
<use href="#m-up" x="386.99" y="361.58"/>
<use href="#m-up" x="390.32" y="360.24"/>
<use href="#m-up" x="393.65" y="359.06"/>
<use href="#m-up" x="396.98" y="357.98"/>
<use href="#m-up" x="400.31" y="356.91"/>
<use href="#m-up" x="403.64" y="355.81"/>
<use href="#m-up" x="406.97" y="354.84"/>
<use href="#m-up" x="410.30" y="354.18"/>
<use href="#m-up" x="413.64" y="353.61"/>
<use href="#m-up" x="416.97" y="353.26"/>
<use href="#m-up" x="420.30" y="353.37"/>
<use href="#m-up" x="423.63" y="354.11"/>
<use href="#m-up" x="426.96" y="355.24"/>
<use href="#m-up" x="430.29" y="356.62"/>
<use href="#m-up" x="433.62" y="358.80"/>
<use href="#m-up" x="436.95" y="361.50"/>
<use href="#m-up" x="440.28" y="364.38"/>
<use href="#m-up" x="443.62" y="367.68"/>
<use href="#m-up" x="446.95" y="371.34"/>
<use href="#m-up" x="450.28" y="375.40"/>
<use href="#m-up" x="453.61" y="379.96"/>
<use href="#m-up" x="456.94" y="384.69"/>
<use href="#m-up" x="460.27" y="389.44"/>
<use href="#m-up" x="463.60" y="394.34"/>
<use href="#m-up" x="466.93" y="399.04"/>
<use href="#m-up" x="470.27" y="403.45"/>
<use href="#m-up" x="473.60" y="407.65"/>
<use href="#m-up" x="476.93" y="411.26"/>
<use href="#m-up" x="480.26" y="414.27"/>
<use href="#m-up" x="483.59" y="416.91"/>
<use href="#m-up" x="486.92" y="419.33"/>
<use href="#m-up" x="490.25" y="421.57"/>
<use href="#m-up" x="493.58" y="423.63"/>
<use href="#m-up" x="496.91" y="425.52"/>
<use href="#m-up" x="500.25" y="427.43"/>
<use href="#m-up" x="503.58" y="429.12"/>
<use href="#m-up" x="506.91" y="430.23"/>
<use href="#m-up" x="510.24" y="431.03"/>
<use href="#m-up" x="513.57" y="431.49"/>
<use href="#m-up" x="516.90" y="431.15"/>
<use href="#m-up" x="520.23" y="429.99"/>
<use href="#m-up" x="523.56" y="428.34"/>
<use href="#m-up" x="526.89" y="426.19"/>
<use href="#m-up" x="530.23" y="424.05"/>
<use href="#m-up" x="533.56" y="422.00"/>
<use href="#m-up" x="536.89" y="419.96"/>
<use href="#m-up" x="540.22" y="418.15"/>
<use href="#m-up" x="543.55" y="416.59"/>
<use href="#m-up" x="546.88" y="415.20"/>
<use href="#m-up" x="550.21" y="413.97"/>
<use href="#m-up" x="553.54" y="412.80"/>
<use href="#m-up" x="556.88" y="411.74"/>
<use href="#m-up" x="560.21" y="411.02"/>
<use href="#m-up" x="563.54" y="410.54"/>
<use href="#m-up" x="566.87" y="410.18"/>
<use href="#m-up" x="570.20" y="410.03"/>
</g>
<g stroke="#e0622e" fill="none" stroke-width="0.6">
<use href="#m-dn" x="340.85" y="321.85"/>
<use href="#m-dn" x="344.41" y="322.35"/>
<use href="#m-dn" x="347.96" y="323.48"/>
<use href="#m-dn" x="351.51" y="325.91"/>
<use href="#m-dn" x="355.06" y="329.64"/>
<use href="#m-dn" x="358.61" y="334.34"/>
<use href="#m-dn" x="362.17" y="338.80"/>
<use href="#m-dn" x="365.72" y="343.17"/>
<use href="#m-dn" x="369.27" y="347.40"/>
<use href="#m-dn" x="372.82" y="351.83"/>
<use href="#m-dn" x="376.37" y="355.62"/>
<use href="#m-dn" x="379.93" y="358.35"/>
<use href="#m-dn" x="383.48" y="361.59"/>
<use href="#m-dn" x="387.03" y="365.30"/>
<use href="#m-dn" x="390.58" y="368.73"/>
<use href="#m-dn" x="394.13" y="372.21"/>
<use href="#m-dn" x="397.69" y="375.85"/>
<use href="#m-dn" x="401.24" y="379.68"/>
<use href="#m-dn" x="404.79" y="382.94"/>
<use href="#m-dn" x="408.34" y="384.95"/>
<use href="#m-dn" x="411.89" y="386.23"/>
<use href="#m-dn" x="415.45" y="387.13"/>
<use href="#m-dn" x="419.00" y="388.00"/>
<use href="#m-dn" x="422.55" y="388.80"/>
<use href="#m-dn" x="426.10" y="389.66"/>
<use href="#m-dn" x="429.65" y="390.88"/>
<use href="#m-dn" x="433.21" y="393.18"/>
<use href="#m-dn" x="436.76" y="395.67"/>
<use href="#m-dn" x="440.31" y="397.23"/>
<use href="#m-dn" x="443.86" y="398.33"/>
<use href="#m-dn" x="447.42" y="399.32"/>
<use href="#m-dn" x="450.97" y="400.26"/>
<use href="#m-dn" x="454.52" y="401.14"/>
<use href="#m-dn" x="458.07" y="402.25"/>
<use href="#m-dn" x="461.62" y="403.89"/>
<use href="#m-dn" x="465.18" y="405.90"/>
<use href="#m-dn" x="468.73" y="407.93"/>
<use href="#m-dn" x="472.28" y="410.05"/>
<use href="#m-dn" x="475.83" y="412.23"/>
<use href="#m-dn" x="479.38" y="414.48"/>
<use href="#m-dn" x="482.94" y="416.80"/>
<use href="#m-dn" x="486.49" y="418.82"/>
<use href="#m-dn" x="490.04" y="420.40"/>
<use href="#m-dn" x="493.59" y="421.75"/>
<use href="#m-dn" x="497.14" y="423.02"/>
<use href="#m-dn" x="500.70" y="424.37"/>
<use href="#m-dn" x="504.25" y="425.89"/>
<use href="#m-dn" x="507.80" y="427.34"/>
<use href="#m-dn" x="511.35" y="428.41"/>
<use href="#m-dn" x="514.90" y="429.34"/>
<use href="#m-dn" x="518.46" y="429.96"/>
<use href="#m-dn" x="522.01" y="429.88"/>
<use href="#m-dn" x="525.56" y="428.94"/>
<use href="#m-dn" x="529.11" y="427.67"/>
<use href="#m-dn" x="532.66" y="426.40"/>
<use href="#m-dn" x="536.22" y="424.90"/>
<use href="#m-dn" x="539.77" y="423.29"/>
<use href="#m-dn" x="543.32" y="421.59"/>
<use href="#m-dn" x="546.87" y="419.77"/>
<use href="#m-dn" x="550.43" y="418.06"/>
<use href="#m-dn" x="553.98" y="416.55"/>
<use href="#m-dn" x="557.53" y="415.10"/>
<use href="#m-dn" x="561.08" y="413.59"/>
<use href="#m-dn" x="564.63" y="412.01"/>
</g>
<path d="M403.20,276.9V474.5M530.12,276.9V474.5" stroke="#666" stroke-width="1.0" fill="none"/>
<path d="M319.70,474.5v-2.5M319.70,276.9v2.5M347.53,474.5v-2.5M347.53,276.9v2.5M375.37,474.5v-2.5M375.37,276.9v2.5M403.20,474.5v-2.5M403.20,276.9v2.5M431.03,474.5v-2.5M431.03,276.9v2.5M458.87,474.5v-2.5M458.87,276.9v2.5M486.70,474.5v-2.5M486.70,276.9v2.5M514.53,474.5v-2.5M514.53,276.9v2.5M542.37,474.5v-2.5M542.37,276.9v2.5M570.20,474.5v-2.5M570.20,276.9v2.5M319.7,474.50h2.5M570.2,474.50h-2.5M319.7,449.80h2.5M570.2,449.80h-2.5M319.7,425.10h2.5M570.2,425.10h-2.5M319.7,400.40h2.5M570.2,400.40h-2.5M319.7,375.70h2.5M570.2,375.70h-2.5M319.7,351.00h2.5M570.2,351.00h-2.5M319.7,326.30h2.5M570.2,326.30h-2.5M319.7,301.60h2.5M570.2,301.60h-2.5M319.7,276.90h2.5M570.2,276.90h-2.5" stroke="#777" stroke-width="0.6" fill="none"/>
<rect x="319.7" y="276.9" width="250.50000000000006" height="197.60000000000002" fill="none" stroke="#8a8a8a" stroke-width="0.9"/>
<text x="319.70" y="485.80" text-anchor="middle" font-family='"Liberation Sans", sans-serif' font-size="8.3" fill="#3a3a3a">-1.5</text>
<text x="347.53" y="485.80" text-anchor="middle" font-family='"Liberation Sans", sans-serif' font-size="8.3" fill="#3a3a3a">-1</text>
<text x="375.37" y="485.80" text-anchor="middle" font-family='"Liberation Sans", sans-serif' font-size="8.3" fill="#3a3a3a">-0.5</text>
<text x="403.20" y="485.80" text-anchor="middle" font-family='"Liberation Sans", sans-serif' font-size="8.3" fill="#3a3a3a">0</text>
<text x="431.03" y="485.80" text-anchor="middle" font-family='"Liberation Sans", sans-serif' font-size="8.3" fill="#3a3a3a">0.5</text>
<text x="458.87" y="485.80" text-anchor="middle" font-family='"Liberation Sans", sans-serif' font-size="8.3" fill="#3a3a3a">1</text>
<text x="486.70" y="485.80" text-anchor="middle" font-family='"Liberation Sans", sans-serif' font-size="8.3" fill="#3a3a3a">1.5</text>
<text x="514.53" y="485.80" text-anchor="middle" font-family='"Liberation Sans", sans-serif' font-size="8.3" fill="#3a3a3a">2</text>
<text x="542.37" y="485.80" text-anchor="middle" font-family='"Liberation Sans", sans-serif' font-size="8.3" fill="#3a3a3a">2.5</text>
<text x="570.20" y="485.80" text-anchor="middle" font-family='"Liberation Sans", sans-serif' font-size="8.3" fill="#3a3a3a">3</text>
<text x="316.50" y="478.00" text-anchor="end" font-family='"Liberation Sans", sans-serif' font-size="8.3" fill="#3a3a3a">-30</text>
<text x="316.50" y="453.30" text-anchor="end" font-family='"Liberation Sans", sans-serif' font-size="8.3" fill="#3a3a3a">-20</text>
<text x="316.50" y="428.60" text-anchor="end" font-family='"Liberation Sans", sans-serif' font-size="8.3" fill="#3a3a3a">-10</text>
<text x="316.50" y="403.90" text-anchor="end" font-family='"Liberation Sans", sans-serif' font-size="8.3" fill="#3a3a3a">0</text>
<text x="316.50" y="379.20" text-anchor="end" font-family='"Liberation Sans", sans-serif' font-size="8.3" fill="#3a3a3a">10</text>
<text x="316.50" y="354.50" text-anchor="end" font-family='"Liberation Sans", sans-serif' font-size="8.3" fill="#3a3a3a">20</text>
<text x="316.50" y="329.80" text-anchor="end" font-family='"Liberation Sans", sans-serif' font-size="8.3" fill="#3a3a3a">30</text>
<text x="316.50" y="305.10" text-anchor="end" font-family='"Liberation Sans", sans-serif' font-size="8.3" fill="#3a3a3a">40</text>
<text x="316.50" y="280.40" text-anchor="end" font-family='"Liberation Sans", sans-serif' font-size="8.3" fill="#3a3a3a">50</text>
<text x="444.95" y="495.10" text-anchor="middle" font-family='"Liberation Serif", serif' font-style="italic" font-size="9" fill="#555">x</text>
<path d="M443.75,490.10L445.15,489.10L446.55,490.10" stroke="#666" stroke-width="0.6" fill="none"/>
<text transform="translate(301.10,375.70) rotate(-90)" text-anchor="middle" font-family='"Liberation Sans", sans-serif' font-size="8.7" fill="#3a3a3a"><tspan font-family='"Liberation Serif", serif' font-style="italic">α</tspan> [deg]</text>
<rect x="218.5" y="9.5" width="54.5" height="42.8" fill="#fff" stroke="#a8a8a8" stroke-width="0.7"/>
<g stroke="#7fb84a" fill="none" stroke-width="0.6"><use href="#m-x" x="232.3" y="15.8"/></g>
<text x="245.8" y="18.90" font-family='"Liberation Sans", sans-serif' font-size="8" fill="#1a1a1a">Run 7</text>
<g stroke="#8e3fa2" fill="none" stroke-width="0.6"><use href="#m-gt" x="232.3" y="26.5"/></g>
<text x="245.8" y="29.60" font-family='"Liberation Sans", sans-serif' font-size="8" fill="#1a1a1a">Run 8</text>
<g stroke="#49bde0" fill="none" stroke-width="0.6"><use href="#m-lt" x="232.3" y="36.6"/></g>
<text x="245.8" y="39.70" font-family='"Liberation Sans", sans-serif' font-size="8" fill="#1a1a1a">Run 9</text>
<g stroke="#a8243c" fill="none" stroke-width="0.6"><use href="#m-h" x="232.3" y="46.6"/></g>
<text x="245.8" y="49.70" font-family='"Liberation Sans", sans-serif' font-size="8" fill="#1a1a1a">Run 10</text>
<rect x="219.3" y="284.1" width="50.39999999999998" height="62.299999999999955" fill="#fff" stroke="#a8a8a8" stroke-width="0.7"/>
<g stroke="#3549b8" fill="none" stroke-width="0.6"><use href="#m-ast" x="233.2" y="290"/></g>
<text x="246.6" y="293.10" font-family='"Liberation Sans", sans-serif' font-size="8" fill="#1a1a1a">Run 1</text>
<g stroke="#1a1a1a" fill="none" stroke-width="0.6"><use href="#m-plus" x="233.2" y="300"/></g>
<text x="246.6" y="303.10" font-family='"Liberation Sans", sans-serif' font-size="8" fill="#1a1a1a">Run 2</text>
<g stroke="#5cb830" fill="none" stroke-width="0.6"><use href="#m-o" x="233.2" y="310.2"/></g>
<text x="246.6" y="313.30" font-family='"Liberation Sans", sans-serif' font-size="8" fill="#1a1a1a">Run 3</text>
<g stroke="#e8242c" fill="none" stroke-width="0.6"><use href="#m-s" x="233.2" y="320.4"/></g>
<text x="246.6" y="323.50" font-family='"Liberation Sans", sans-serif' font-size="8" fill="#1a1a1a">Run 4</text>
<g stroke="#c03cbc" fill="none" stroke-width="0.6"><use href="#m-up" x="233.2" y="330.3"/></g>
<text x="246.6" y="333.40" font-family='"Liberation Sans", sans-serif' font-size="8" fill="#1a1a1a">Run 5</text>
<g stroke="#e0622e" fill="none" stroke-width="0.6"><use href="#m-dn" x="233.2" y="340.7"/></g>
<text x="246.6" y="343.80" font-family='"Liberation Sans", sans-serif' font-size="8" fill="#1a1a1a">Run 6</text>
<text x="41.7" y="245.5" font-family='"Liberation Serif", serif' font-size="14.8" fill="#111" textLength="199.3" lengthAdjust="spacingAndGlyphs">(a) Left Wing - Low Gust Ratio</text>
<text x="329.59999999999997" y="245.5" font-family='"Liberation Serif", serif' font-size="14.8" fill="#111" textLength="209.4" lengthAdjust="spacingAndGlyphs">(b) Right Wing - Low Gust Ratio</text>
<text x="39.900000000000006" y="516.4" font-family='"Liberation Serif", serif' font-size="14.8" fill="#111" textLength="202.2" lengthAdjust="spacingAndGlyphs">(c) Left Wing - High Gust Ratio</text>
<text x="328.09999999999997" y="516.4" font-family='"Liberation Serif", serif' font-size="14.8" fill="#111" textLength="213.4" lengthAdjust="spacingAndGlyphs">(d) Right Wing - High Gust Ratio</text>
</svg>
</body></html>
